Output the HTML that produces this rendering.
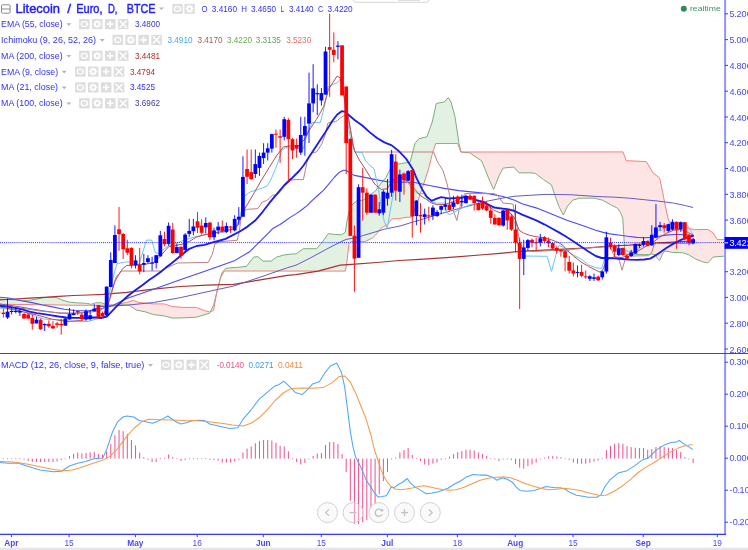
<!DOCTYPE html>
<html><head><meta charset="utf-8"><title>Litecoin / Euro chart</title>
<style>
html,body{margin:0;padding:0;background:#fff;}
body{width:748px;height:550px;overflow:hidden;position:relative;font-family:"Liberation Sans",sans-serif;}
svg{position:absolute;left:0;top:0;display:block;will-change:transform;transform:translateZ(0)}
text{font-family:"Liberation Sans",sans-serif;}
</style></head><body>
<svg width="748" height="550" viewBox="0 0 748 550">
<rect x="0" y="0" width="748" height="550" fill="#ffffff"/>
<defs>
<clipPath id="mainclip"><rect x="0" y="0" width="724" height="353"/></clipPath>
<clipPath id="macdclip"><rect x="0" y="354" width="724" height="180"/></clipPath>
</defs>

<g clip-path="url(#mainclip)">
<polygon points="0.0,299.1 1.0,299.2 2.0,299.2 3.0,299.3 4.0,299.3 5.0,299.4 6.0,299.4 7.0,299.5 8.0,299.5 9.0,299.6 10.0,299.6 11.0,299.7 12.0,299.8 13.0,299.8 14.0,299.9 15.0,299.9 16.0,300.0 17.0,300.0 18.0,300.1 19.0,300.2 20.0,300.2 21.0,300.3 22.0,300.3 23.0,300.4 24.0,300.5 25.0,300.5 26.0,300.6 27.0,300.5 28.0,300.4 29.0,300.2 30.0,300.1 31.0,299.9 32.0,299.8 33.0,299.7 34.0,299.5 35.0,299.4 36.0,299.2 37.0,299.1 38.0,298.9 39.0,298.6 40.0,298.4 41.0,298.2 42.0,298.0 43.0,297.8 44.0,297.6 45.0,297.6 46.0,297.5 47.0,297.5 48.0,297.5 49.0,297.5 50.0,297.4 51.0,297.4 52.0,297.4 53.0,297.4 54.0,297.4 55.0,297.4 56.0,297.4 57.0,297.9 58.0,298.3 59.0,298.7 60.0,299.1 61.0,299.6 62.0,300.0 63.0,300.3 64.0,300.6 65.0,300.9 66.0,301.2 67.0,301.5 68.0,301.8 69.0,302.1 70.0,302.2 71.0,302.3 72.0,302.4 73.0,302.5 74.0,302.6 75.0,302.7 76.0,302.8 77.0,302.8 78.0,302.9 79.0,302.9 80.0,303.0 81.0,303.0 82.0,303.1 83.0,303.1 84.0,303.1 85.0,303.2 86.0,303.3 87.0,303.5 88.0,303.7 89.0,303.9 90.0,304.1 91.0,304.3 92.0,304.0 93.0,303.7 94.0,303.3 95.0,303.0 96.0,302.8 97.0,302.8 98.0,302.8 99.0,302.8 100.0,302.8 101.0,302.8 102.0,303.0 103.0,303.4 104.0,303.7 105.0,304.1 106.0,304.5 107.0,304.8 108.0,305.2 109.0,305.2 110.0,305.1 111.0,305.1 112.0,305.0 113.0,305.0 114.0,304.9 115.0,304.9 116.0,304.8 116.0,304.7 115.0,304.9 114.0,305.1 113.0,305.2 112.0,305.2 111.0,305.2 110.0,305.2 109.0,305.2 108.0,305.3 107.0,305.3 106.0,305.3 105.0,305.3 104.0,305.3 103.0,305.3 102.0,305.3 101.0,305.3 100.0,305.3 99.0,305.3 98.0,305.3 97.0,305.3 96.0,305.3 95.0,305.3 94.0,305.3 93.0,305.3 92.0,305.3 91.0,305.3 90.0,305.3 89.0,305.3 88.0,305.3 87.0,305.3 86.0,305.3 85.0,305.3 84.0,305.3 83.0,305.3 82.0,305.3 81.0,305.3 80.0,305.3 79.0,305.3 78.0,305.3 77.0,305.3 76.0,305.3 75.0,305.3 74.0,305.3 73.0,305.3 72.0,305.3 71.0,305.2 70.0,305.2 69.0,305.2 68.0,305.2 67.0,305.2 66.0,305.1 65.0,305.1 64.0,305.1 63.0,305.1 62.0,305.1 61.0,305.0 60.0,305.0 59.0,305.0 58.0,305.0 57.0,305.0 56.0,304.9 55.0,304.9 54.0,304.9 53.0,304.9 52.0,304.9 51.0,304.8 50.0,304.8 49.0,304.8 48.0,304.8 47.0,304.8 46.0,304.7 45.0,304.7 44.0,304.7 43.0,304.7 42.0,304.7 41.0,304.7 40.0,304.7 39.0,304.7 38.0,304.6 37.0,304.6 36.0,304.6 35.0,304.6 34.0,304.6 33.0,304.6 32.0,304.6 31.0,304.6 30.0,304.6 29.0,304.6 28.0,304.6 27.0,304.5 26.0,304.5 25.0,304.5 24.0,304.5 23.0,304.5 22.0,304.5 21.0,304.5 20.0,304.5 19.0,304.5 18.0,304.5 17.0,304.5 16.0,304.4 15.0,304.4 14.0,304.4 13.0,304.4 12.0,304.4 11.0,304.4 10.0,304.4 9.0,304.4 8.0,304.4 7.0,304.4 6.0,304.4 5.0,304.3 4.0,304.3 3.0,304.3 2.0,304.3 1.0,304.3 0.0,304.3" fill="#e3f1e3" stroke="none"/>
<polygon points="115.0,304.9 116.0,304.8 117.0,304.8 118.0,304.7 119.0,304.7 120.0,304.8 121.0,304.8 122.0,304.9 123.0,304.9 124.0,304.9 125.0,305.0 126.0,305.0 127.0,305.1 128.0,305.1 129.0,305.2 130.0,305.6 131.0,306.3 132.0,307.1 133.0,307.8 134.0,308.5 135.0,309.2 136.0,309.9 137.0,310.2 138.0,310.4 139.0,310.6 140.0,310.8 141.0,311.0 142.0,311.2 143.0,311.4 144.0,311.6 145.0,311.8 146.0,312.1 147.0,312.4 148.0,312.7 149.0,313.1 150.0,313.4 151.0,313.8 152.0,314.1 153.0,314.4 154.0,314.7 155.0,314.8 156.0,314.9 157.0,315.0 158.0,315.1 159.0,315.3 160.0,315.4 161.0,315.5 162.0,315.6 163.0,315.8 164.0,315.9 165.0,316.1 166.0,316.4 167.0,316.6 168.0,316.9 169.0,317.2 170.0,317.4 171.0,317.7 172.0,317.9 173.0,318.0 174.0,318.0 175.0,318.0 176.0,318.0 177.0,318.0 178.0,318.0 179.0,318.0 180.0,318.0 181.0,318.0 182.0,317.9 183.0,317.9 184.0,317.8 185.0,317.8 186.0,317.7 187.0,317.7 188.0,317.6 189.0,317.6 190.0,317.5 191.0,317.5 192.0,317.4 193.0,317.4 194.0,317.3 195.0,317.3 196.0,317.2 197.0,317.0 198.0,316.7 199.0,316.4 200.0,316.1 201.0,315.8 202.0,315.5 203.0,315.2 204.0,314.9 205.0,314.6 206.0,314.3 207.0,314.0 208.0,313.7 209.0,313.4 210.0,312.4 211.0,310.4 211.0,311.4 210.0,311.8 209.0,311.8 208.0,311.5 207.0,311.3 206.0,311.0 205.0,310.8 204.0,310.5 203.0,310.1 202.0,309.7 201.0,309.3 200.0,308.9 199.0,308.5 198.0,308.1 197.0,307.7 196.0,307.4 195.0,307.4 194.0,307.4 193.0,307.4 192.0,307.4 191.0,307.4 190.0,307.4 189.0,307.4 188.0,307.4 187.0,307.4 186.0,307.4 185.0,307.4 184.0,307.4 183.0,307.4 182.0,307.3 181.0,307.3 180.0,307.2 179.0,307.1 178.0,307.0 177.0,307.0 176.0,306.9 175.0,306.8 174.0,306.7 173.0,306.7 172.0,306.5 171.0,306.2 170.0,305.9 169.0,305.5 168.0,305.2 167.0,304.8 166.0,304.5 165.0,304.2 164.0,303.9 163.0,303.9 162.0,303.9 161.0,303.9 160.0,303.9 159.0,303.9 158.0,303.9 157.0,303.9 156.0,303.9 155.0,303.9 154.0,303.9 153.0,303.9 152.0,303.8 151.0,303.7 150.0,303.6 149.0,303.5 148.0,303.4 147.0,303.3 146.0,303.2 145.0,303.1 144.0,303.0 143.0,302.9 142.0,302.8 141.0,302.7 140.0,302.6 139.0,302.5 138.0,302.2 137.0,301.8 136.0,301.4 135.0,301.0 134.0,300.6 133.0,300.5 132.0,300.8 131.0,301.2 130.0,301.5 129.0,301.8 128.0,302.1 127.0,302.4 126.0,302.6 125.0,302.8 124.0,303.0 123.0,303.3 122.0,303.5 121.0,303.7 120.0,303.9 119.0,304.1 118.0,304.3 117.0,304.5 116.0,304.7 115.0,304.9" fill="#fde5e5" stroke="none"/>
<polygon points="210.0,312.4 211.0,310.4 212.0,308.4 213.0,306.4 214.0,303.6 215.0,299.6 216.0,295.6 217.0,291.6 218.0,287.6 219.0,283.7 219.0,283.7 218.0,287.7 217.0,291.7 216.0,296.3 215.0,302.3 214.0,308.2 213.0,310.8 212.0,311.1 211.0,311.4 210.0,311.8" fill="#e3f1e3" stroke="none"/>
<polygon points="218.0,287.6 219.0,283.7 220.0,279.8 221.0,275.8 221.0,277.2 220.0,279.7 219.0,283.7 218.0,287.7" fill="#fde5e5" stroke="none"/>
<polygon points="220.0,279.8 221.0,275.8 222.0,272.7 223.0,271.5 224.0,270.3 225.0,269.1 226.0,268.3 227.0,268.2 228.0,268.1 229.0,268.0 230.0,267.9 231.0,267.9 232.0,267.8 233.0,267.7 234.0,267.6 235.0,267.5 236.0,267.4 237.0,267.4 238.0,267.3 239.0,267.2 240.0,267.1 241.0,267.0 242.0,266.9 243.0,266.8 244.0,266.7 245.0,266.6 246.0,266.5 247.0,265.8 248.0,264.5 249.0,263.2 250.0,261.9 251.0,260.6 252.0,259.3 253.0,258.0 254.0,257.1 255.0,256.9 256.0,256.8 257.0,256.7 258.0,256.8 259.0,257.6 260.0,258.5 261.0,259.3 262.0,260.2 263.0,261.0 264.0,261.1 265.0,261.1 266.0,261.1 267.0,261.1 268.0,261.1 269.0,261.1 270.0,261.1 271.0,261.1 272.0,260.4 273.0,259.7 274.0,259.0 275.0,258.2 276.0,257.5 277.0,257.0 278.0,256.7 279.0,256.4 280.0,256.1 281.0,255.9 282.0,255.6 283.0,255.3 284.0,255.0 285.0,254.8 286.0,254.7 287.0,254.6 288.0,254.5 289.0,254.3 290.0,254.2 291.0,254.1 292.0,254.0 293.0,253.9 294.0,253.9 295.0,253.9 296.0,253.9 297.0,253.2 298.0,252.5 299.0,251.8 300.0,251.1 301.0,250.4 302.0,249.7 303.0,249.0 304.0,248.7 305.0,248.7 306.0,248.7 307.0,248.7 308.0,248.7 309.0,248.7 310.0,248.7 311.0,248.7 312.0,248.7 313.0,248.7 314.0,248.7 315.0,248.7 316.0,248.7 317.0,248.2 318.0,247.0 319.0,245.9 320.0,244.7 321.0,243.5 322.0,242.3 323.0,241.1 324.0,239.8 325.0,238.4 326.0,237.0 327.0,235.6 328.0,234.2 329.0,233.7 330.0,233.8 331.0,234.0 332.0,234.1 333.0,234.2 334.0,234.4 335.0,234.4 336.0,234.5 337.0,234.5 338.0,234.6 339.0,234.7 340.0,234.7 341.0,234.8 342.0,234.6 343.0,233.9 344.0,233.1 345.0,232.4 346.0,227.4 347.0,221.0 348.0,216.2 349.0,211.5 350.0,209.5 351.0,207.6 352.0,205.6 353.0,204.0 354.0,203.1 355.0,202.3 356.0,201.5 357.0,201.1 358.0,200.9 359.0,200.7 360.0,200.5 361.0,200.3 362.0,200.1 363.0,200.0 364.0,199.6 365.0,198.9 366.0,198.1 367.0,197.3 368.0,196.5 369.0,195.8 370.0,195.0 371.0,194.3 372.0,193.5 373.0,192.8 374.0,192.0 375.0,191.3 376.0,190.2 377.0,188.8 378.0,187.4 379.0,186.0 380.0,184.6 381.0,183.3 382.0,182.1 383.0,180.9 384.0,179.8 385.0,178.6 386.0,177.3 387.0,175.3 388.0,173.3 389.0,171.4 390.0,169.4 391.0,168.3 392.0,167.5 393.0,166.8 394.0,166.0 395.0,165.2 396.0,164.5 397.0,164.2 398.0,164.1 399.0,163.9 400.0,163.8 401.0,163.6 402.0,163.4 403.0,163.3 404.0,163.1 405.0,163.0 406.0,162.8 407.0,162.7 408.0,162.5 409.0,162.4 410.0,162.2 411.0,158.7 412.0,154.8 413.0,150.9 414.0,147.0 415.0,143.4 416.0,142.2 417.0,141.0 418.0,139.8 419.0,138.7 420.0,138.4 421.0,138.2 422.0,138.0 423.0,137.7 424.0,137.5 425.0,137.3 426.0,137.0 427.0,136.5 428.0,133.7 429.0,131.0 430.0,128.2 431.0,125.4 432.0,122.7 433.0,118.5 434.0,113.9 435.0,109.3 436.0,104.8 437.0,103.3 438.0,103.1 439.0,102.9 440.0,102.8 441.0,102.6 442.0,102.4 443.0,102.2 444.0,102.1 445.0,101.2 446.0,100.1 447.0,99.0 448.0,97.8 449.0,98.7 450.0,100.3 451.0,102.0 452.0,105.7 453.0,109.3 454.0,113.0 455.0,116.7 456.0,123.4 457.0,130.1 458.0,136.8 459.0,143.5 460.0,148.0 461.0,152.0 461.0,152.0 460.0,149.7 459.0,147.1 458.0,144.5 457.0,143.5 456.0,143.5 455.0,143.5 454.0,143.5 453.0,143.5 452.0,143.5 451.0,143.5 450.0,143.5 449.0,143.5 448.0,143.5 447.0,143.5 446.0,143.5 445.0,143.5 444.0,143.5 443.0,143.5 442.0,143.5 441.0,143.5 440.0,143.5 439.0,143.5 438.0,143.5 437.0,143.5 436.0,143.5 435.0,145.6 434.0,148.7 433.0,151.8 432.0,155.0 431.0,159.0 430.0,163.0 429.0,167.0 428.0,170.8 427.0,173.8 426.0,176.9 425.0,179.9 424.0,183.0 423.0,186.0 422.0,189.0 421.0,191.9 420.0,194.9 419.0,197.9 418.0,200.8 417.0,203.7 416.0,206.5 415.0,209.2 414.0,212.0 413.0,214.8 412.0,217.0 411.0,217.1 410.0,217.1 409.0,217.2 408.0,217.3 407.0,217.3 406.0,217.4 405.0,217.6 404.0,217.7 403.0,217.9 402.0,218.1 401.0,218.3 400.0,218.4 399.0,218.6 398.0,218.6 397.0,218.7 396.0,218.7 395.0,218.8 394.0,218.8 393.0,218.8 392.0,218.9 391.0,219.8 390.0,221.2 389.0,222.5 388.0,223.9 387.0,225.0 386.0,225.5 385.0,226.0 384.0,226.5 383.0,227.0 382.0,227.5 381.0,228.3 380.0,229.5 379.0,230.8 378.0,232.0 377.0,233.2 376.0,234.5 375.0,235.6 374.0,236.5 373.0,237.5 372.0,238.2 371.0,238.7 370.0,239.2 369.0,239.7 368.0,240.2 367.0,240.7 366.0,241.2 365.0,241.6 364.0,241.6 363.0,241.6 362.0,241.6 361.0,241.6 360.0,241.6 359.0,241.6 358.0,241.6 357.0,241.6 356.0,241.6 355.0,241.6 354.0,241.6 353.0,241.6 352.0,241.6 351.0,241.8 350.0,242.8 349.0,243.8 348.0,252.5 347.0,261.3 346.0,267.3 345.0,271.1 344.0,271.1 343.0,271.1 342.0,271.1 341.0,271.1 340.0,271.1 339.0,271.1 338.0,271.1 337.0,271.1 336.0,271.1 335.0,271.1 334.0,271.1 333.0,271.1 332.0,271.1 331.0,271.1 330.0,271.1 329.0,271.1 328.0,271.1 327.0,271.1 326.0,271.1 325.0,271.1 324.0,271.1 323.0,271.1 322.0,271.1 321.0,271.1 320.0,271.1 319.0,271.1 318.0,271.1 317.0,271.1 316.0,271.1 315.0,271.1 314.0,271.1 313.0,271.1 312.0,271.1 311.0,271.1 310.0,271.1 309.0,271.1 308.0,271.1 307.0,271.1 306.0,271.1 305.0,271.1 304.0,271.1 303.0,271.1 302.0,271.1 301.0,271.1 300.0,271.1 299.0,271.1 298.0,271.1 297.0,271.1 296.0,271.1 295.0,271.1 294.0,271.1 293.0,271.1 292.0,271.1 291.0,271.1 290.0,271.1 289.0,271.1 288.0,271.1 287.0,271.1 286.0,271.1 285.0,271.1 284.0,271.0 283.0,271.0 282.0,271.0 281.0,271.0 280.0,271.0 279.0,271.0 278.0,271.0 277.0,271.0 276.0,271.0 275.0,271.0 274.0,271.0 273.0,271.0 272.0,271.0 271.0,271.0 270.0,271.0 269.0,271.0 268.0,271.0 267.0,271.0 266.0,271.0 265.0,271.0 264.0,271.0 263.0,271.0 262.0,271.0 261.0,271.0 260.0,271.0 259.0,271.0 258.0,271.0 257.0,271.0 256.0,271.0 255.0,271.0 254.0,271.0 253.0,271.0 252.0,271.0 251.0,271.0 250.0,271.0 249.0,271.0 248.0,271.0 247.0,271.0 246.0,271.0 245.0,271.0 244.0,271.0 243.0,271.0 242.0,271.0 241.0,271.0 240.0,271.0 239.0,271.0 238.0,271.0 237.0,271.0 236.0,271.0 235.0,271.0 234.0,271.0 233.0,271.0 232.0,271.0 231.0,271.0 230.0,271.0 229.0,271.0 228.0,271.0 227.0,271.0 226.0,271.0 225.0,271.0 224.0,271.6 223.0,273.4 222.0,275.3 221.0,277.2 220.0,279.7" fill="#e3f1e3" stroke="none"/>
<polygon points="460.0,148.0 461.0,152.0 462.0,152.1 463.0,152.2 464.0,152.3 465.0,152.4 466.0,152.5 467.0,152.6 468.0,152.6 469.0,152.7 470.0,153.0 471.0,153.7 472.0,154.4 473.0,155.0 474.0,155.7 475.0,156.4 476.0,157.1 477.0,157.7 478.0,158.4 479.0,159.1 480.0,159.8 481.0,160.4 482.0,161.7 483.0,164.2 484.0,166.7 485.0,169.2 486.0,171.7 487.0,174.2 488.0,176.7 489.0,179.2 490.0,181.5 491.0,183.7 492.0,185.8 493.0,188.0 494.0,188.7 495.0,186.2 496.0,183.6 497.0,181.0 498.0,178.4 499.0,175.9 500.0,173.9 501.0,172.0 502.0,170.2 503.0,168.3 504.0,168.0 505.0,167.9 506.0,167.8 507.0,167.7 508.0,167.6 509.0,167.5 510.0,167.4 511.0,167.3 512.0,167.2 513.0,167.1 514.0,167.2 515.0,168.3 516.0,169.4 517.0,170.6 518.0,171.7 519.0,172.8 520.0,172.9 521.0,172.9 522.0,172.9 523.0,172.9 524.0,172.9 525.0,172.8 526.0,172.8 527.0,172.8 528.0,172.8 529.0,172.8 530.0,172.8 531.0,172.9 532.0,173.0 533.0,173.1 534.0,173.2 535.0,173.3 536.0,173.8 537.0,174.6 538.0,175.4 539.0,176.1 540.0,176.9 541.0,177.7 542.0,178.4 543.0,179.2 544.0,179.9 545.0,180.6 546.0,181.2 547.0,181.9 548.0,182.5 549.0,183.2 550.0,183.9 551.0,184.5 552.0,186.6 553.0,189.6 554.0,192.6 555.0,195.6 556.0,198.4 557.0,201.1 558.0,203.8 559.0,206.4 560.0,208.6 561.0,210.5 562.0,212.4 563.0,214.3 564.0,213.7 565.0,211.5 566.0,209.3 567.0,207.1 568.0,205.5 569.0,204.4 570.0,203.3 571.0,202.1 572.0,201.0 573.0,200.0 574.0,199.8 575.0,199.5 576.0,199.2 577.0,198.9 578.0,198.6 579.0,198.3 580.0,198.2 581.0,198.2 582.0,198.2 583.0,198.2 584.0,198.2 585.0,198.2 586.0,198.2 587.0,198.2 588.0,198.2 589.0,198.2 590.0,198.2 591.0,198.2 592.0,198.2 593.0,198.2 594.0,198.2 595.0,198.4 596.0,198.6 597.0,198.9 598.0,199.1 599.0,199.3 600.0,199.6 601.0,199.8 602.0,200.1 603.0,200.5 604.0,201.1 605.0,201.6 606.0,202.2 607.0,202.7 608.0,203.3 609.0,203.8 610.0,204.3 611.0,204.9 612.0,205.4 613.0,205.9 614.0,206.4 615.0,206.9 616.0,207.4 617.0,207.9 618.0,208.8 619.0,210.3 620.0,211.8 621.0,213.8 622.0,216.5 623.0,221.9 624.0,238.5 625.0,254.2 626.0,254.2 627.0,254.3 628.0,254.3 629.0,254.4 630.0,254.4 631.0,254.4 632.0,254.5 633.0,254.5 634.0,254.5 635.0,254.6 636.0,254.6 637.0,254.6 638.0,254.6 639.0,254.6 640.0,254.6 641.0,254.6 642.0,254.6 643.0,254.6 644.0,254.6 645.0,254.6 646.0,254.6 647.0,254.6 648.0,254.6 649.0,254.5 650.0,254.3 651.0,254.0 652.0,254.0 653.0,254.2 654.0,254.4 655.0,254.6 656.0,255.9 657.0,257.6 658.0,258.9 659.0,259.9 660.0,259.6 661.0,257.4 662.0,255.2 663.0,253.4 664.0,252.1 665.0,251.0 666.0,251.2 667.0,251.3 668.0,251.5 669.0,251.7 670.0,251.9 671.0,252.1 672.0,252.4 673.0,252.4 674.0,252.5 675.0,252.5 676.0,252.5 677.0,252.5 678.0,252.6 679.0,252.6 680.0,252.6 681.0,252.7 682.0,252.7 683.0,252.9 684.0,253.2 685.0,253.5 686.0,253.8 687.0,254.1 688.0,254.5 689.0,255.0 690.0,255.6 691.0,256.2 692.0,256.8 693.0,257.4 694.0,258.1 695.0,258.7 696.0,259.2 697.0,259.6 698.0,260.0 699.0,260.4 700.0,260.8 701.0,261.2 702.0,261.6 703.0,262.0 704.0,262.2 705.0,262.4 706.0,262.6 707.0,262.7 708.0,262.7 709.0,261.6 710.0,260.5 711.0,259.4 712.0,258.3 713.0,257.2 714.0,256.9 715.0,256.9 716.0,256.8 717.0,256.7 718.0,256.6 719.0,256.6 720.0,256.5 721.0,256.4 722.0,256.3 723.0,256.3 724.0,256.2 724.0,239.6 723.0,239.6 722.0,239.6 721.0,239.6 720.0,239.6 719.0,239.6 718.0,239.6 717.0,239.3 716.0,237.6 715.0,235.9 714.0,234.2 713.0,232.8 712.0,232.1 711.0,231.5 710.0,230.9 709.0,230.3 708.0,229.6 707.0,229.5 706.0,229.5 705.0,229.5 704.0,229.5 703.0,229.5 702.0,229.5 701.0,229.6 700.0,229.6 699.0,229.6 698.0,229.6 697.0,229.6 696.0,229.6 695.0,229.6 694.0,229.5 693.0,229.3 692.0,229.0 691.0,228.8 690.0,228.5 689.0,228.3 688.0,227.9 687.0,227.6 686.0,227.2 685.0,226.8 684.0,226.4 683.0,226.0 682.0,225.6 681.0,225.2 680.0,225.1 679.0,225.0 678.0,224.9 677.0,224.8 676.0,224.7 675.0,224.6 674.0,224.5 673.0,224.4 672.0,224.2 671.0,223.9 670.0,223.7 669.0,221.0 668.0,218.0 667.0,213.8 666.0,209.1 665.0,204.2 664.0,199.1 663.0,194.0 662.0,189.1 661.0,184.3 660.0,179.5 659.0,177.5 658.0,176.8 657.0,176.0 656.0,175.2 655.0,174.4 654.0,173.6 653.0,172.8 652.0,171.1 651.0,169.5 650.0,167.8 649.0,166.1 648.0,164.4 647.0,162.8 646.0,161.6 645.0,161.5 644.0,161.5 643.0,161.5 642.0,161.4 641.0,161.4 640.0,161.3 639.0,161.3 638.0,161.2 637.0,161.2 636.0,161.1 635.0,161.1 634.0,161.0 633.0,161.0 632.0,161.0 631.0,160.9 630.0,160.9 629.0,160.8 628.0,160.8 627.0,160.7 626.0,159.9 625.0,157.2 624.0,154.6 623.0,151.9 622.0,151.9 621.0,151.9 620.0,151.9 619.0,151.9 618.0,151.9 617.0,151.9 616.0,151.9 615.0,151.9 614.0,151.9 613.0,151.9 612.0,151.9 611.0,151.9 610.0,151.9 609.0,151.9 608.0,151.9 607.0,151.9 606.0,151.9 605.0,151.9 604.0,151.9 603.0,151.9 602.0,151.9 601.0,151.9 600.0,151.9 599.0,151.9 598.0,151.9 597.0,151.9 596.0,151.9 595.0,151.9 594.0,151.9 593.0,151.9 592.0,151.9 591.0,151.9 590.0,151.9 589.0,151.9 588.0,151.9 587.0,151.9 586.0,151.9 585.0,151.9 584.0,151.9 583.0,151.9 582.0,151.9 581.0,151.9 580.0,151.9 579.0,151.9 578.0,151.9 577.0,151.9 576.0,151.9 575.0,151.9 574.0,151.9 573.0,151.9 572.0,151.9 571.0,151.9 570.0,151.9 569.0,151.9 568.0,151.9 567.0,151.9 566.0,151.9 565.0,151.9 564.0,151.9 563.0,151.9 562.0,151.9 561.0,151.9 560.0,151.9 559.0,151.9 558.0,151.9 557.0,151.9 556.0,151.9 555.0,151.9 554.0,151.9 553.0,151.9 552.0,151.9 551.0,151.9 550.0,151.9 549.0,151.9 548.0,151.9 547.0,151.9 546.0,151.9 545.0,151.9 544.0,151.9 543.0,151.9 542.0,151.9 541.0,152.0 540.0,152.0 539.0,152.0 538.0,152.0 537.0,152.0 536.0,152.0 535.0,152.0 534.0,152.0 533.0,152.0 532.0,152.0 531.0,152.0 530.0,152.0 529.0,152.0 528.0,152.0 527.0,152.0 526.0,152.0 525.0,152.0 524.0,152.0 523.0,152.0 522.0,152.0 521.0,152.0 520.0,152.0 519.0,152.0 518.0,152.0 517.0,152.0 516.0,152.0 515.0,152.0 514.0,152.0 513.0,152.0 512.0,152.0 511.0,152.0 510.0,152.0 509.0,152.0 508.0,152.0 507.0,152.0 506.0,152.0 505.0,152.0 504.0,152.0 503.0,152.0 502.0,152.0 501.0,152.0 500.0,152.0 499.0,152.0 498.0,152.0 497.0,152.0 496.0,152.0 495.0,152.0 494.0,152.0 493.0,152.0 492.0,152.0 491.0,152.0 490.0,152.0 489.0,152.0 488.0,152.0 487.0,152.0 486.0,152.0 485.0,152.0 484.0,152.0 483.0,152.0 482.0,152.0 481.0,152.0 480.0,152.0 479.0,152.0 478.0,152.0 477.0,152.0 476.0,152.0 475.0,152.0 474.0,152.0 473.0,152.0 472.0,152.0 471.0,152.0 470.0,152.0 469.0,152.0 468.0,152.0 467.0,152.0 466.0,152.0 465.0,152.0 464.0,152.0 463.0,152.0 462.0,152.0 461.0,152.0 460.0,149.7" fill="#fde5e5" stroke="none"/>
<polyline points="0.0,299.1 14.7,299.9 26.5,300.6 36.8,299.1 44.1,297.6 51.5,297.4 55.9,297.4 61.8,299.9 69.1,302.1 76.5,302.8 85.3,303.2 91.2,304.3 95.6,302.8 101.5,302.8 108.0,305.2 118.7,304.7 129.4,305.2 136.1,310.0 145.5,311.9 153.5,314.6 164.2,315.9 172.2,318.0 180.2,318.0 196.3,317.2 209.6,313.2 213.6,305.2 217.6,289.2 221.7,273.1 225.7,268.3 239.0,267.2 246.5,266.4 253.7,257.1 257.8,256.6 263.1,261.1 271.1,261.1 276.5,257.1 284.5,254.9 292.5,253.9 296.0,253.9 303.4,248.7 316.6,248.7 323.2,240.9 328.4,233.6 334.3,234.4 341.7,234.8 345.3,232.2 346.8,221.9 349.0,211.5 352.7,204.2 356.4,201.2 363.8,199.8 369.6,195.3 375.5,190.9 380.7,183.6 385.8,177.7 390.3,168.8 396.1,164.4 401.5,163.5 410.1,162.2 414.9,143.5 418.9,138.7 426.9,136.8 432.2,122.1 436.3,103.4 444.3,102.0 448.3,97.5 451.0,102.0 455.0,116.7 459.0,143.5 460.9,152.0 469.7,152.8 481.7,160.9 489.7,180.9 493.7,189.5 499.1,175.6 503.1,168.1 513.8,167.0 519.1,172.9 530.0,172.8 535.3,173.3 543.4,179.5 551.4,184.8 555.4,196.8 559.4,207.5 563.4,215.0 567.4,206.2 572.8,200.1 579.5,198.2 594.2,198.2 602.2,200.1 610.3,204.5 617.7,208.3 620.6,212.7 622.8,218.6 623.6,231.8 624.3,243.6 625.0,254.2 635.3,254.6 648.6,254.6 651.5,253.9 655.2,254.6 657.4,258.3 659.6,260.5 662.6,253.9 664.8,251.0 669.2,251.7 672.2,252.4 682.5,252.7 688.4,254.6 695.7,259.1 703.1,262.0 707.8,262.9 713.2,257.0 724.0,256.2" fill="none" stroke="#79b079" stroke-width="1"/>
<polyline points="0.0,304.3 44.1,304.7 73.5,305.3 102.9,305.3 113.4,305.2 126.7,302.5 133.4,300.4 138.8,302.5 153.5,303.9 164.2,303.9 172.2,306.6 182.9,307.4 196.3,307.4 204.3,310.6 209.6,311.9 213.6,310.6 216.3,294.5 220.3,278.5 224.3,271.0 345.3,271.1 346.8,263.0 349.0,243.8 351.2,241.6 365.2,241.6 372.6,237.9 375.5,235.1 381.4,227.8 387.3,224.8 391.7,218.9 399.1,218.6 406.0,217.4 412.2,217.0 417.5,202.3 422.9,186.3 428.2,170.2 432.2,154.2 435.7,143.5 457.6,143.5 460.9,152.0 623.0,151.9 626.3,160.7 646.3,161.6 653.0,172.8 659.7,178.1 662.6,192.0 665.5,206.8 667.7,217.1 669.9,223.7 673.6,224.5 681.0,225.2 688.4,228.1 694.3,229.6 707.8,229.5 713.2,232.9 717.2,239.6 724.0,239.6" fill="none" stroke="#f77f7f" stroke-width="1"/>
<polyline points="0.0,299.8 14.7,299.0 29.4,298.2 44.1,297.3 58.8,296.3 73.5,295.5 88.2,295.0 102.9,294.4 126.7,292.4 153.5,289.2 180.2,286.5 207.0,285.2 233.7,284.4 260.4,279.8 287.2,275.3 296.0,274.6 318.1,271.1 340.2,265.2 354.9,264.2 377.0,262.5 399.1,260.5 420.0,259.3 450.0,257.3 480.0,255.0 500.0,253.3 514.7,251.8 529.5,250.8 544.2,250.1 558.9,249.3 573.6,248.6 588.4,247.9 603.1,246.6 614.7,245.8 629.5,245.1 644.2,243.9 658.9,242.9 673.6,242.1 688.4,241.2 693.1,240.6" fill="none" stroke="#a83232" stroke-width="1.2" stroke-linejoin="round"/>
<polyline points="0.0,304.0 14.7,306.0 29.4,308.5 44.1,311.0 58.8,313.0 73.5,313.5 88.2,312.0 100.0,306.6 126.7,305.2 153.5,302.5 180.2,297.7 207.0,291.8 233.7,286.0 260.4,277.1 287.2,267.8 296.0,265.2 310.7,257.8 325.5,249.7 340.2,242.1 346.1,239.4 354.9,237.9 362.3,235.8 384.4,229.2 400.0,226.0 414.7,221.5 429.5,217.1 444.2,212.7 458.9,208.6 473.6,204.6 488.4,200.9 503.1,198.0 515.0,196.2 530.0,195.3 546.0,194.4 570.1,194.7 596.8,196.5 614.7,197.2 629.5,198.2 644.2,199.7 658.9,201.2 673.6,203.1 685.4,205.6 693.1,207.5" fill="none" stroke="#645cc0" stroke-width="1" stroke-linejoin="round"/>
<polyline points="0.0,297.3 8.6,298.0 21.4,300.7 32.0,302.6 42.8,305.0 53.5,307.1 64.2,309.3 74.9,310.5 88.2,310.9 100.0,309.0 106.0,307.5 113.4,305.2 126.7,298.5 153.5,289.2 180.2,279.8 207.0,270.5 233.7,261.1 249.7,251.7 255.0,246.4 264.1,237.3 273.2,228.2 280.0,224.5 285.5,220.7 290.9,216.9 296.4,213.6 301.8,209.8 307.3,205.4 312.8,199.9 318.2,195.0 323.7,190.1 329.1,183.6 334.6,177.0 339.0,172.6 343.3,170.2 345.5,170.2 349.9,172.6 354.2,175.4 362.3,176.9 377.0,179.9 387.3,181.8 396.1,182.1 406.0,182.1 414.7,182.5 429.5,185.5 444.2,188.4 458.9,190.6 473.6,192.1 488.4,193.6 503.1,196.5 514.0,200.0 522.1,203.7 536.8,208.1 551.5,214.0 566.3,219.9 581.0,225.0 595.7,230.2 603.1,232.4 610.0,233.9 622.1,235.5 629.5,236.5 636.8,237.4 644.2,237.7 651.5,237.4 658.9,236.2 666.3,235.1 673.6,234.5 681.0,234.5 688.4,235.1 693.1,235.5" fill="none" stroke="#4a4aff" stroke-width="1.1" stroke-linejoin="round"/>
<polyline points="0.0,306.0 20.0,308.0 40.0,311.0 60.0,313.0 80.0,313.0 100.0,311.0 107.0,305.0 110.7,297.2 116.0,277.1 121.4,271.0 161.5,271.0 166.8,267.8 177.5,263.0 208.3,262.4 212.3,254.4 215.0,243.7 220.3,241.6 237.2,240.3 239.4,230.7 240.9,218.9 243.1,210.8 247.5,209.3 257.9,208.6 262.3,202.0 266.7,200.5 272.6,195.3 277.7,194.6 284.4,186.5 290.3,180.6 293.9,179.6 303.4,179.6 307.0,162.2 308.5,157.2 312.2,152.7 316.6,152.0 321.8,143.9 325.5,133.6 327.7,123.3 331.3,121.8 335.8,121.8 340.2,118.1 344.6,115.2 346.8,114.5 348.3,118.9 351.2,133.6 354.2,149.8 354.9,152.0 433.6,152.0 437.6,162.2 442.9,170.2 447.0,183.6 452.3,207.6 456.8,220.5 459.0,210.3 463.0,196.9 464.8,193.6 494.3,193.6 497.2,195.0 503.1,203.1 510.0,203.6 513.0,204.0 516.0,222.0 519.0,238.0 522.0,249.0 529.5,251.5 544.2,251.0 558.9,250.0 567.7,250.8 570.7,249.3 581.0,248.6 595.7,247.4 610.0,246.5 614.7,256.9 619.1,259.8 622.1,270.1 625.0,259.8 629.5,256.1 648.6,255.7 651.5,253.2 653.8,245.8 656.0,243.5 673.6,243.5 688.4,243.6 693.1,243.7" fill="none" stroke="#c08080" stroke-width="1" stroke-linejoin="round"/>
<polyline points="0.0,308.0 10.0,309.5 22.1,311.6 29.4,313.8 36.8,316.8 44.1,319.0 51.5,319.7 61.8,319.7 66.2,321.2 76.5,321.5 88.2,321.5 94.1,319.7 102.9,317.5 108.0,300.0 112.0,281.0 117.1,263.6 124.5,262.2 128.6,261.8 133.6,264.8 139.2,264.1 140.7,258.9 146.5,240.1 151.7,240.1 155.4,253.0 159.1,253.3 162.7,250.1 168.6,245.7 175.0,243.5 182.0,241.0 189.0,238.5 196.0,236.6 204.8,234.8 210.7,233.6 225.5,232.2 237.2,224.8 240.2,216.0 244.6,196.1 250.5,191.7 256.4,190.2 262.3,188.0 267.4,185.8 271.1,179.1 275.5,168.8 278.2,161.4 281.8,150.5 285.5,147.7 298.2,148.6 303.6,148.6 304.8,142.4 307.8,132.1 312.2,122.6 320.3,122.6 323.2,111.5 326.9,95.3 327.7,87.3 332.8,84.4 337.2,82.9 340.2,79.2 343.0,90.0 347.0,120.0 351.0,140.0 354.9,152.0 362.3,152.7 365.2,160.1 369.6,165.2 374.1,168.8 378.5,189.5 381.4,208.6 384.4,221.9 387.3,228.5 390.3,210.1 393.2,193.9 397.6,179.1 402.0,178.5 407.4,181.8 411.8,189.1 417.7,193.6 423.6,193.6 429.5,201.7 436.8,203.1 444.2,203.1 447.1,212.0 449.3,214.9 458.9,209.8 466.3,206.1 472.2,203.9 475.1,204.6 482.0,205.0 490.0,206.0 500.0,207.5 508.8,211.0 511.8,214.7 514.0,220.6 516.2,229.5 517.7,242.7 519.1,250.1 522.1,256.0 547.1,256.3 551.5,271.4 556.0,254.5 558.9,245.7 563.3,247.1 567.7,251.5 573.6,255.2 581.0,258.9 588.4,264.8 595.7,267.7 601.6,268.5 604.6,258.9 606.8,248.6 610.0,247.0 618.0,247.5 626.0,251.0 634.0,252.0 640.0,248.0 648.0,242.0 656.0,230.5 662.0,230.5 665.0,227.0 670.0,224.0 680.0,222.8 686.2,223.7 688.4,226.7 691.3,231.8 693.1,234.1" fill="none" stroke="#6cc4f5" stroke-width="1" stroke-linejoin="round"/>
<polyline points="0.0,307.0 14.7,309.5 22.0,311.5 36.8,315.0 51.5,319.0 66.2,321.5 80.9,320.5 95.6,317.5 103.0,315.5 108.0,305.0 112.0,290.0 115.0,281.0 122.2,269.2 126.7,265.5 131.0,265.3 134.8,264.8 143.6,264.5 153.9,262.6 159.8,256.7 168.6,246.8 174.5,245.7 183.0,244.0 190.0,241.0 196.0,237.3 203.4,235.1 210.7,233.6 218.1,232.2 225.5,230.7 232.8,229.2 237.2,226.3 240.2,218.9 243.1,211.5 247.6,204.0 254.5,192.3 261.8,179.5 269.1,167.7 276.4,155.9 283.6,146.8 290.9,145.9 298.2,145.9 304.5,139.5 309.1,130.5 316.4,119.5 323.6,106.8 328.4,89.5 337.2,76.0 340.2,78.0 343.0,90.0 346.0,107.0 349.0,120.3 352.7,143.9 354.9,151.3 359.3,160.0 365.2,168.8 369.6,176.2 375.5,185.0 381.4,189.5 387.3,188.7 390.3,183.6 395.0,178.0 401.0,177.0 407.4,181.0 414.7,189.1 420.6,195.8 426.5,199.5 431.7,203.1 436.8,204.6 444.2,204.6 451.5,202.4 458.9,199.5 463.3,197.2 470.7,197.2 476.6,200.9 482.5,203.1 488.4,206.1 494.3,210.5 500.1,212.7 506.0,211.2 508.8,212.0 513.3,216.0 516.2,222.1 519.1,230.2 523.6,233.1 529.5,235.3 536.8,236.8 544.2,238.0 551.5,239.8 558.9,242.7 563.3,245.7 567.7,250.8 573.6,256.0 581.0,261.9 588.4,266.3 595.7,270.0 600.1,272.2 603.1,269.2 606.0,261.9 610.0,258.0 614.7,256.9 622.1,257.6 629.5,253.9 636.8,251.7 644.2,247.3 651.5,243.6 658.9,237.7 666.3,233.3 673.6,230.3 681.0,229.6 688.4,232.6 693.1,234.8" fill="none" stroke="#b85050" stroke-width="1" stroke-linejoin="round"/>
<polyline points="0.0,305.7 7.4,306.5 14.7,307.9 22.1,309.4 29.4,311.6 36.8,313.1 44.1,314.1 51.5,315.3 58.8,316.5 66.2,317.5 73.5,317.9 80.9,317.9 88.2,317.5 95.6,317.3 100.9,318.0 106.8,316.5 110.4,312.9 115.1,307.8 121.0,302.2 128.1,295.7 135.2,290.3 142.3,285.2 149.4,279.8 156.5,275.1 161.2,271.5 165.9,267.6 171.6,263.3 180.4,256.0 189.3,248.8 196.6,246.0 204.7,244.8 211.0,242.8 218.1,241.0 225.5,238.8 232.8,235.1 240.2,231.2 247.5,226.6 254.9,220.8 262.3,212.3 269.6,202.7 277.0,193.9 284.4,185.0 291.7,178.3 299.1,171.0 303.5,165.5 310.7,154.5 318.1,143.2 325.5,132.1 332.8,120.3 337.2,114.5 341.7,111.2 345.3,111.8 349.0,115.2 354.9,120.3 362.3,125.5 369.6,132.1 377.0,138.0 384.4,142.4 391.7,145.4 399.1,151.3 406.0,158.6 413.3,170.0 416.2,177.4 422.1,189.1 426.5,196.5 431.7,200.9 436.8,198.7 441.2,197.2 448.6,198.3 458.9,198.0 464.8,197.2 470.7,198.0 476.6,200.2 482.5,201.7 488.4,204.6 494.3,207.6 500.1,208.3 507.4,209.1 514.7,211.0 522.1,214.7 529.5,217.7 536.8,220.6 544.2,224.3 551.5,228.3 558.9,232.4 566.3,236.8 573.6,241.5 581.0,246.4 588.4,251.5 595.7,256.0 601.6,258.0 607.4,258.0 614.7,258.4 622.1,259.0 629.5,259.6 636.8,259.8 644.2,259.5 650.1,258.6 654.5,256.1 658.9,253.2 666.3,248.0 673.6,243.6 681.0,239.9 688.4,237.0 693.1,235.8" fill="none" stroke="#1c1cf0" stroke-width="1.85" stroke-linejoin="round" stroke-linecap="round"/>
<line x1="3.40" x2="3.40" y1="309.0" y2="317.5" stroke="#ff0000" stroke-width="0.9"/>
<rect x="1.52" y="312.6" width="3.75" height="1.4" fill="#ff0000"/>
<line x1="7.53" x2="7.53" y1="298.4" y2="319.0" stroke="#0000ff" stroke-width="0.9"/>
<rect x="5.65" y="311.6" width="3.75" height="5.9" fill="#0000ff"/>
<line x1="11.66" x2="11.66" y1="307.0" y2="314.5" stroke="#0000ff" stroke-width="0.9"/>
<rect x="9.79" y="311.0" width="3.75" height="1.0" fill="#0000ff"/>
<line x1="15.79" x2="15.79" y1="307.0" y2="313.5" stroke="#0000ff" stroke-width="0.9"/>
<rect x="13.92" y="311.0" width="3.75" height="1.0" fill="#0000ff"/>
<line x1="19.92" x2="19.92" y1="309.4" y2="316.0" stroke="#0000ff" stroke-width="0.9"/>
<rect x="18.04" y="311.0" width="3.75" height="1.6" fill="#0000ff"/>
<line x1="24.05" x2="24.05" y1="313.0" y2="319.0" stroke="#ff0000" stroke-width="0.9"/>
<rect x="22.17" y="314.0" width="3.75" height="4.5" fill="#ff0000"/>
<line x1="28.18" x2="28.18" y1="313.0" y2="319.0" stroke="#ff0000" stroke-width="0.9"/>
<rect x="26.30" y="314.5" width="3.75" height="4.0" fill="#ff0000"/>
<line x1="32.31" x2="32.31" y1="314.5" y2="329.7" stroke="#ff0000" stroke-width="0.9"/>
<rect x="30.44" y="318.0" width="3.75" height="5.8" fill="#ff0000"/>
<line x1="36.44" x2="36.44" y1="316.8" y2="323.4" stroke="#0000ff" stroke-width="0.9"/>
<rect x="34.56" y="319.7" width="3.75" height="3.7" fill="#0000ff"/>
<line x1="40.57" x2="40.57" y1="318.5" y2="329.7" stroke="#ff0000" stroke-width="0.9"/>
<rect x="38.70" y="319.7" width="3.75" height="9.6" fill="#ff0000"/>
<line x1="44.70" x2="44.70" y1="323.4" y2="331.0" stroke="#0000ff" stroke-width="0.9"/>
<rect x="42.82" y="324.0" width="3.75" height="1.3" fill="#0000ff"/>
<line x1="48.83" x2="48.83" y1="320.4" y2="327.8" stroke="#ff0000" stroke-width="0.9"/>
<rect x="46.95" y="323.8" width="3.75" height="2.5" fill="#ff0000"/>
<line x1="52.96" x2="52.96" y1="321.2" y2="328.5" stroke="#ff0000" stroke-width="0.9"/>
<rect x="51.09" y="325.9" width="3.75" height="2.6" fill="#ff0000"/>
<line x1="57.09" x2="57.09" y1="321.9" y2="327.8" stroke="#ff0000" stroke-width="0.9"/>
<rect x="55.21" y="323.4" width="3.75" height="1.5" fill="#ff0000"/>
<line x1="61.22" x2="61.22" y1="319.0" y2="334.7" stroke="#ff0000" stroke-width="0.9"/>
<rect x="59.34" y="323.8" width="3.75" height="1.5" fill="#ff0000"/>
<line x1="65.35" x2="65.35" y1="318.0" y2="325.6" stroke="#0000ff" stroke-width="0.9"/>
<rect x="63.47" y="318.5" width="3.75" height="7.1" fill="#0000ff"/>
<line x1="69.48" x2="69.48" y1="308.0" y2="319.7" stroke="#0000ff" stroke-width="0.9"/>
<rect x="67.61" y="314.1" width="3.75" height="5.3" fill="#0000ff"/>
<line x1="73.61" x2="73.61" y1="309.4" y2="315.3" stroke="#0000ff" stroke-width="0.9"/>
<rect x="71.73" y="313.5" width="3.75" height="1.5" fill="#0000ff"/>
<line x1="77.74" x2="77.74" y1="310.6" y2="315.0" stroke="#ff0000" stroke-width="0.9"/>
<rect x="75.87" y="310.9" width="3.75" height="1.5" fill="#ff0000"/>
<line x1="81.87" x2="81.87" y1="313.1" y2="320.4" stroke="#ff0000" stroke-width="0.9"/>
<rect x="80.00" y="314.6" width="3.75" height="4.4" fill="#ff0000"/>
<line x1="86.00" x2="86.00" y1="309.4" y2="320.9" stroke="#0000ff" stroke-width="0.9"/>
<rect x="84.12" y="311.2" width="3.75" height="7.8" fill="#0000ff"/>
<line x1="90.13" x2="90.13" y1="310.6" y2="320.4" stroke="#0000ff" stroke-width="0.9"/>
<rect x="88.26" y="315.3" width="3.75" height="3.7" fill="#0000ff"/>
<line x1="94.26" x2="94.26" y1="304.3" y2="311.6" stroke="#0000ff" stroke-width="0.9"/>
<rect x="92.39" y="308.7" width="3.75" height="2.5" fill="#0000ff"/>
<line x1="98.39" x2="98.39" y1="305.0" y2="318.5" stroke="#ff0000" stroke-width="0.9"/>
<rect x="96.52" y="305.0" width="3.75" height="11.8" fill="#ff0000"/>
<line x1="102.52" x2="102.52" y1="311.6" y2="317.5" stroke="#ff0000" stroke-width="0.9"/>
<rect x="100.65" y="313.0" width="3.75" height="3.0" fill="#ff0000"/>
<line x1="106.65" x2="106.65" y1="286.6" y2="316.0" stroke="#0000ff" stroke-width="0.9"/>
<rect x="104.78" y="286.6" width="3.75" height="28.7" fill="#0000ff"/>
<line x1="110.78" x2="110.78" y1="252.3" y2="287.0" stroke="#0000ff" stroke-width="0.9"/>
<rect x="108.91" y="260.0" width="3.75" height="27.0" fill="#0000ff"/>
<line x1="114.91" x2="114.91" y1="225.3" y2="263.0" stroke="#0000ff" stroke-width="0.9"/>
<rect x="113.03" y="235.0" width="3.75" height="28.0" fill="#0000ff"/>
<line x1="119.04" x2="119.04" y1="207.0" y2="250.8" stroke="#ff0000" stroke-width="0.9"/>
<rect x="117.17" y="229.2" width="3.75" height="5.0" fill="#ff0000"/>
<line x1="123.17" x2="123.17" y1="233.0" y2="259.0" stroke="#ff0000" stroke-width="0.9"/>
<rect x="121.30" y="233.9" width="3.75" height="15.4" fill="#ff0000"/>
<line x1="127.30" x2="127.30" y1="239.8" y2="255.2" stroke="#ff0000" stroke-width="0.9"/>
<rect x="125.42" y="248.3" width="3.75" height="4.4" fill="#ff0000"/>
<line x1="131.43" x2="131.43" y1="247.4" y2="268.5" stroke="#ff0000" stroke-width="0.9"/>
<rect x="129.56" y="247.9" width="3.75" height="17.6" fill="#ff0000"/>
<line x1="135.56" x2="135.56" y1="255.2" y2="268.5" stroke="#0000ff" stroke-width="0.9"/>
<rect x="133.69" y="260.4" width="3.75" height="5.1" fill="#0000ff"/>
<line x1="139.69" x2="139.69" y1="247.9" y2="274.4" stroke="#ff0000" stroke-width="0.9"/>
<rect x="137.81" y="264.8" width="3.75" height="6.6" fill="#ff0000"/>
<line x1="143.82" x2="143.82" y1="253.8" y2="272.2" stroke="#0000ff" stroke-width="0.9"/>
<rect x="141.94" y="263.0" width="3.75" height="1.8" fill="#0000ff"/>
<line x1="147.95" x2="147.95" y1="255.2" y2="263.3" stroke="#0000ff" stroke-width="0.9"/>
<rect x="146.07" y="258.2" width="3.75" height="3.9" fill="#0000ff"/>
<line x1="152.08" x2="152.08" y1="256.7" y2="270.7" stroke="#0000ff" stroke-width="0.9"/>
<rect x="150.21" y="262.6" width="3.75" height="1.0" fill="#0000ff"/>
<line x1="156.21" x2="156.21" y1="254.8" y2="268.5" stroke="#0000ff" stroke-width="0.9"/>
<rect x="154.34" y="255.2" width="3.75" height="7.8" fill="#0000ff"/>
<line x1="160.34" x2="160.34" y1="230.9" y2="256.7" stroke="#0000ff" stroke-width="0.9"/>
<rect x="158.47" y="235.3" width="3.75" height="21.0" fill="#0000ff"/>
<line x1="164.47" x2="164.47" y1="231.7" y2="246.4" stroke="#ff0000" stroke-width="0.9"/>
<rect x="162.59" y="239.0" width="3.75" height="5.2" fill="#ff0000"/>
<line x1="168.60" x2="168.60" y1="222.4" y2="245.7" stroke="#0000ff" stroke-width="0.9"/>
<rect x="166.72" y="225.8" width="3.75" height="18.1" fill="#0000ff"/>
<line x1="172.73" x2="172.73" y1="222.8" y2="253.8" stroke="#ff0000" stroke-width="0.9"/>
<rect x="170.85" y="229.5" width="3.75" height="23.5" fill="#ff0000"/>
<line x1="176.86" x2="176.86" y1="243.4" y2="253.3" stroke="#0000ff" stroke-width="0.9"/>
<rect x="174.99" y="247.1" width="3.75" height="5.9" fill="#0000ff"/>
<line x1="180.99" x2="180.99" y1="246.4" y2="258.9" stroke="#ff0000" stroke-width="0.9"/>
<rect x="179.12" y="246.8" width="3.75" height="8.9" fill="#ff0000"/>
<line x1="185.12" x2="185.12" y1="233.1" y2="252.3" stroke="#0000ff" stroke-width="0.9"/>
<rect x="183.25" y="234.6" width="3.75" height="15.5" fill="#0000ff"/>
<line x1="189.25" x2="189.25" y1="218.9" y2="236.8" stroke="#0000ff" stroke-width="0.9"/>
<rect x="187.38" y="230.9" width="3.75" height="3.0" fill="#0000ff"/>
<line x1="193.38" x2="193.38" y1="218.9" y2="235.3" stroke="#0000ff" stroke-width="0.9"/>
<rect x="191.50" y="226.5" width="3.75" height="4.7" fill="#0000ff"/>
<line x1="197.51" x2="197.51" y1="212.1" y2="233.1" stroke="#ff0000" stroke-width="0.9"/>
<rect x="195.63" y="221.3" width="3.75" height="6.4" fill="#ff0000"/>
<line x1="201.64" x2="201.64" y1="219.3" y2="234.6" stroke="#ff0000" stroke-width="0.9"/>
<rect x="199.77" y="225.6" width="3.75" height="7.2" fill="#ff0000"/>
<line x1="205.77" x2="205.77" y1="217.4" y2="233.6" stroke="#0000ff" stroke-width="0.9"/>
<rect x="203.90" y="223.0" width="3.75" height="4.4" fill="#0000ff"/>
<line x1="209.90" x2="209.90" y1="221.9" y2="240.3" stroke="#ff0000" stroke-width="0.9"/>
<rect x="208.03" y="222.6" width="3.75" height="14.7" fill="#ff0000"/>
<line x1="214.03" x2="214.03" y1="227.7" y2="240.3" stroke="#0000ff" stroke-width="0.9"/>
<rect x="212.16" y="230.4" width="3.75" height="6.9" fill="#0000ff"/>
<line x1="218.16" x2="218.16" y1="221.9" y2="234.4" stroke="#0000ff" stroke-width="0.9"/>
<rect x="216.28" y="226.6" width="3.75" height="3.8" fill="#0000ff"/>
<line x1="222.29" x2="222.29" y1="220.4" y2="232.2" stroke="#ff0000" stroke-width="0.9"/>
<rect x="220.41" y="226.6" width="3.75" height="4.8" fill="#ff0000"/>
<line x1="226.42" x2="226.42" y1="222.6" y2="232.9" stroke="#0000ff" stroke-width="0.9"/>
<rect x="224.54" y="226.0" width="3.75" height="5.9" fill="#0000ff"/>
<line x1="230.55" x2="230.55" y1="226.0" y2="232.9" stroke="#ff0000" stroke-width="0.9"/>
<rect x="228.68" y="226.6" width="3.75" height="1.0" fill="#ff0000"/>
<line x1="234.68" x2="234.68" y1="215.2" y2="231.4" stroke="#0000ff" stroke-width="0.9"/>
<rect x="232.81" y="218.9" width="3.75" height="11.5" fill="#0000ff"/>
<line x1="238.81" x2="238.81" y1="207.1" y2="224.8" stroke="#0000ff" stroke-width="0.9"/>
<rect x="236.94" y="216.7" width="3.75" height="2.9" fill="#0000ff"/>
<line x1="242.94" x2="242.94" y1="156.3" y2="216.7" stroke="#0000ff" stroke-width="0.9"/>
<rect x="241.06" y="176.9" width="3.75" height="39.8" fill="#0000ff"/>
<line x1="247.07" x2="247.07" y1="149.5" y2="184.0" stroke="#ff0000" stroke-width="0.9"/>
<rect x="245.19" y="169.0" width="3.75" height="7.8" fill="#ff0000"/>
<line x1="251.20" x2="251.20" y1="149.5" y2="179.5" stroke="#ff0000" stroke-width="0.9"/>
<rect x="249.32" y="172.2" width="3.75" height="7.0" fill="#ff0000"/>
<line x1="255.33" x2="255.33" y1="149.5" y2="178.0" stroke="#0000ff" stroke-width="0.9"/>
<rect x="253.46" y="164.1" width="3.75" height="9.9" fill="#0000ff"/>
<line x1="259.46" x2="259.46" y1="152.6" y2="175.9" stroke="#0000ff" stroke-width="0.9"/>
<rect x="257.58" y="155.9" width="3.75" height="12.0" fill="#0000ff"/>
<line x1="263.59" x2="263.59" y1="143.2" y2="164.1" stroke="#0000ff" stroke-width="0.9"/>
<rect x="261.71" y="152.6" width="3.75" height="5.5" fill="#0000ff"/>
<line x1="267.72" x2="267.72" y1="143.2" y2="160.5" stroke="#0000ff" stroke-width="0.9"/>
<rect x="265.84" y="148.3" width="3.75" height="4.3" fill="#0000ff"/>
<line x1="271.85" x2="271.85" y1="133.7" y2="152.6" stroke="#0000ff" stroke-width="0.9"/>
<rect x="269.97" y="134.1" width="3.75" height="14.5" fill="#0000ff"/>
<line x1="275.98" x2="275.98" y1="129.5" y2="147.7" stroke="#ff0000" stroke-width="0.9"/>
<rect x="274.10" y="133.7" width="3.75" height="1.0" fill="#ff0000"/>
<line x1="280.11" x2="280.11" y1="129.5" y2="162.8" stroke="#ff0000" stroke-width="0.9"/>
<rect x="278.23" y="136.3" width="3.75" height="1.4" fill="#ff0000"/>
<line x1="284.24" x2="284.24" y1="116.8" y2="140.5" stroke="#0000ff" stroke-width="0.9"/>
<rect x="282.36" y="119.2" width="3.75" height="17.6" fill="#0000ff"/>
<line x1="288.37" x2="288.37" y1="118.1" y2="181.4" stroke="#ff0000" stroke-width="0.9"/>
<rect x="286.49" y="119.9" width="3.75" height="19.3" fill="#ff0000"/>
<line x1="292.50" x2="292.50" y1="138.1" y2="159.2" stroke="#ff0000" stroke-width="0.9"/>
<rect x="290.62" y="139.2" width="3.75" height="11.3" fill="#ff0000"/>
<line x1="296.63" x2="296.63" y1="138.6" y2="157.7" stroke="#ff0000" stroke-width="0.9"/>
<rect x="294.75" y="145.0" width="3.75" height="3.4" fill="#ff0000"/>
<line x1="300.76" x2="300.76" y1="116.8" y2="155.0" stroke="#0000ff" stroke-width="0.9"/>
<rect x="298.88" y="135.0" width="3.75" height="17.6" fill="#0000ff"/>
<line x1="304.89" x2="304.89" y1="116.8" y2="155.8" stroke="#0000ff" stroke-width="0.9"/>
<rect x="303.01" y="126.0" width="3.75" height="9.6" fill="#0000ff"/>
<line x1="309.02" x2="309.02" y1="72.6" y2="143.0" stroke="#0000ff" stroke-width="0.9"/>
<rect x="307.14" y="103.4" width="3.75" height="20.2" fill="#0000ff"/>
<line x1="313.15" x2="313.15" y1="64.2" y2="112.2" stroke="#0000ff" stroke-width="0.9"/>
<rect x="311.27" y="88.4" width="3.75" height="15.0" fill="#0000ff"/>
<line x1="317.28" x2="317.28" y1="84.4" y2="115.2" stroke="#0000ff" stroke-width="0.9"/>
<rect x="315.40" y="93.1" width="3.75" height="1.2" fill="#0000ff"/>
<line x1="321.41" x2="321.41" y1="88.0" y2="105.6" stroke="#0000ff" stroke-width="0.9"/>
<rect x="319.53" y="93.1" width="3.75" height="7.4" fill="#0000ff"/>
<line x1="325.54" x2="325.54" y1="46.8" y2="94.6" stroke="#0000ff" stroke-width="0.9"/>
<rect x="323.66" y="51.5" width="3.75" height="43.1" fill="#0000ff"/>
<line x1="329.67" x2="329.67" y1="13.7" y2="96.8" stroke="#ff0000" stroke-width="0.9"/>
<rect x="327.79" y="47.1" width="3.75" height="2.7" fill="#ff0000"/>
<line x1="333.80" x2="333.80" y1="32.4" y2="62.3" stroke="#ff0000" stroke-width="0.9"/>
<rect x="331.92" y="49.8" width="3.75" height="5.1" fill="#ff0000"/>
<line x1="337.93" x2="337.93" y1="41.2" y2="59.3" stroke="#0000ff" stroke-width="0.9"/>
<rect x="336.05" y="45.6" width="3.75" height="1.2" fill="#0000ff"/>
<line x1="342.06" x2="342.06" y1="45.3" y2="95.3" stroke="#ff0000" stroke-width="0.9"/>
<rect x="340.18" y="45.3" width="3.75" height="50.0" fill="#ff0000"/>
<line x1="346.19" x2="346.19" y1="86.5" y2="174.0" stroke="#ff0000" stroke-width="0.9"/>
<rect x="344.31" y="86.5" width="3.75" height="56.7" fill="#ff0000"/>
<line x1="350.32" x2="350.32" y1="138.8" y2="236.0" stroke="#ff0000" stroke-width="0.9"/>
<rect x="348.44" y="138.8" width="3.75" height="97.0" fill="#ff0000"/>
<line x1="354.45" x2="354.45" y1="225.5" y2="291.7" stroke="#ff0000" stroke-width="0.9"/>
<rect x="352.57" y="235.7" width="3.75" height="22.9" fill="#ff0000"/>
<line x1="358.58" x2="358.58" y1="184.3" y2="257.8" stroke="#0000ff" stroke-width="0.9"/>
<rect x="356.70" y="187.2" width="3.75" height="70.6" fill="#0000ff"/>
<line x1="362.71" x2="362.71" y1="168.1" y2="220.7" stroke="#ff0000" stroke-width="0.9"/>
<rect x="360.83" y="187.2" width="3.75" height="5.5" fill="#ff0000"/>
<line x1="366.84" x2="366.84" y1="188.3" y2="214.8" stroke="#ff0000" stroke-width="0.9"/>
<rect x="364.96" y="192.7" width="3.75" height="20.0" fill="#ff0000"/>
<line x1="370.97" x2="370.97" y1="194.6" y2="212.7" stroke="#0000ff" stroke-width="0.9"/>
<rect x="369.09" y="194.6" width="3.75" height="18.1" fill="#0000ff"/>
<line x1="375.10" x2="375.10" y1="194.6" y2="212.7" stroke="#ff0000" stroke-width="0.9"/>
<rect x="373.22" y="194.6" width="3.75" height="18.1" fill="#ff0000"/>
<line x1="379.23" x2="379.23" y1="202.0" y2="215.7" stroke="#0000ff" stroke-width="0.9"/>
<rect x="377.35" y="209.3" width="3.75" height="4.0" fill="#0000ff"/>
<line x1="383.36" x2="383.36" y1="190.2" y2="215.2" stroke="#0000ff" stroke-width="0.9"/>
<rect x="381.48" y="191.7" width="3.75" height="21.0" fill="#0000ff"/>
<line x1="387.49" x2="387.49" y1="179.1" y2="205.7" stroke="#0000ff" stroke-width="0.9"/>
<rect x="385.61" y="192.7" width="3.75" height="5.9" fill="#0000ff"/>
<line x1="391.62" x2="391.62" y1="149.8" y2="196.8" stroke="#0000ff" stroke-width="0.9"/>
<rect x="389.74" y="154.2" width="3.75" height="38.5" fill="#0000ff"/>
<line x1="395.75" x2="395.75" y1="154.2" y2="200.5" stroke="#ff0000" stroke-width="0.9"/>
<rect x="393.87" y="161.6" width="3.75" height="29.0" fill="#ff0000"/>
<line x1="399.88" x2="399.88" y1="169.6" y2="202.0" stroke="#0000ff" stroke-width="0.9"/>
<rect x="398.00" y="174.4" width="3.75" height="17.3" fill="#0000ff"/>
<line x1="404.01" x2="404.01" y1="172.5" y2="194.6" stroke="#ff0000" stroke-width="0.9"/>
<rect x="402.13" y="173.5" width="3.75" height="6.8" fill="#ff0000"/>
<line x1="408.14" x2="408.14" y1="170.0" y2="181.0" stroke="#0000ff" stroke-width="0.9"/>
<rect x="406.26" y="171.2" width="3.75" height="9.4" fill="#0000ff"/>
<line x1="412.27" x2="412.27" y1="170.0" y2="237.7" stroke="#ff0000" stroke-width="0.9"/>
<rect x="410.39" y="170.0" width="3.75" height="46.4" fill="#ff0000"/>
<line x1="416.40" x2="416.40" y1="200.2" y2="225.2" stroke="#0000ff" stroke-width="0.9"/>
<rect x="414.52" y="200.6" width="3.75" height="15.4" fill="#0000ff"/>
<line x1="420.53" x2="420.53" y1="203.1" y2="232.6" stroke="#ff0000" stroke-width="0.9"/>
<rect x="418.65" y="214.9" width="3.75" height="1.5" fill="#ff0000"/>
<line x1="424.66" x2="424.66" y1="208.6" y2="224.5" stroke="#0000ff" stroke-width="0.9"/>
<rect x="422.78" y="214.2" width="3.75" height="2.9" fill="#0000ff"/>
<line x1="428.79" x2="428.79" y1="206.8" y2="220.8" stroke="#ff0000" stroke-width="0.9"/>
<rect x="426.91" y="215.4" width="3.75" height="1.0" fill="#ff0000"/>
<line x1="432.92" x2="432.92" y1="205.3" y2="220.1" stroke="#0000ff" stroke-width="0.9"/>
<rect x="431.04" y="207.6" width="3.75" height="8.1" fill="#0000ff"/>
<line x1="437.05" x2="437.05" y1="210.0" y2="217.0" stroke="#0000ff" stroke-width="0.9"/>
<rect x="435.17" y="212.0" width="3.75" height="4.0" fill="#0000ff"/>
<line x1="441.18" x2="441.18" y1="205.3" y2="214.2" stroke="#0000ff" stroke-width="0.9"/>
<rect x="439.30" y="206.1" width="3.75" height="3.7" fill="#0000ff"/>
<line x1="445.31" x2="445.31" y1="198.7" y2="210.5" stroke="#0000ff" stroke-width="0.9"/>
<rect x="443.43" y="204.6" width="3.75" height="2.2" fill="#0000ff"/>
<line x1="449.44" x2="449.44" y1="198.0" y2="210.5" stroke="#ff0000" stroke-width="0.9"/>
<rect x="447.56" y="204.6" width="3.75" height="5.5" fill="#ff0000"/>
<line x1="453.57" x2="453.57" y1="195.8" y2="209.0" stroke="#0000ff" stroke-width="0.9"/>
<rect x="451.69" y="202.4" width="3.75" height="4.4" fill="#0000ff"/>
<line x1="457.70" x2="457.70" y1="195.3" y2="204.6" stroke="#ff0000" stroke-width="0.9"/>
<rect x="455.82" y="196.5" width="3.75" height="7.4" fill="#ff0000"/>
<line x1="461.83" x2="461.83" y1="194.7" y2="206.8" stroke="#0000ff" stroke-width="0.9"/>
<rect x="459.95" y="200.9" width="3.75" height="1.5" fill="#0000ff"/>
<line x1="465.96" x2="465.96" y1="194.7" y2="203.6" stroke="#0000ff" stroke-width="0.9"/>
<rect x="464.08" y="195.8" width="3.75" height="7.3" fill="#0000ff"/>
<line x1="470.09" x2="470.09" y1="194.3" y2="200.2" stroke="#ff0000" stroke-width="0.9"/>
<rect x="468.21" y="195.8" width="3.75" height="3.9" fill="#ff0000"/>
<line x1="474.22" x2="474.22" y1="195.3" y2="210.5" stroke="#ff0000" stroke-width="0.9"/>
<rect x="472.34" y="195.8" width="3.75" height="7.3" fill="#ff0000"/>
<line x1="478.35" x2="478.35" y1="202.4" y2="210.5" stroke="#ff0000" stroke-width="0.9"/>
<rect x="476.47" y="203.1" width="3.75" height="7.0" fill="#ff0000"/>
<line x1="482.48" x2="482.48" y1="196.5" y2="209.8" stroke="#ff0000" stroke-width="0.9"/>
<rect x="480.60" y="202.4" width="3.75" height="6.2" fill="#ff0000"/>
<line x1="486.61" x2="486.61" y1="201.7" y2="211.2" stroke="#ff0000" stroke-width="0.9"/>
<rect x="484.73" y="206.1" width="3.75" height="4.4" fill="#ff0000"/>
<line x1="490.74" x2="490.74" y1="205.3" y2="223.8" stroke="#ff0000" stroke-width="0.9"/>
<rect x="488.86" y="210.5" width="3.75" height="7.4" fill="#ff0000"/>
<line x1="494.87" x2="494.87" y1="214.2" y2="224.5" stroke="#ff0000" stroke-width="0.9"/>
<rect x="492.99" y="217.9" width="3.75" height="6.6" fill="#ff0000"/>
<line x1="499.00" x2="499.00" y1="217.1" y2="225.7" stroke="#ff0000" stroke-width="0.9"/>
<rect x="497.12" y="217.9" width="3.75" height="7.3" fill="#ff0000"/>
<line x1="503.13" x2="503.13" y1="209.8" y2="226.7" stroke="#0000ff" stroke-width="0.9"/>
<rect x="501.25" y="210.5" width="3.75" height="15.0" fill="#0000ff"/>
<line x1="507.26" x2="507.26" y1="209.0" y2="229.6" stroke="#ff0000" stroke-width="0.9"/>
<rect x="505.38" y="209.7" width="3.75" height="10.7" fill="#ff0000"/>
<line x1="511.39" x2="511.39" y1="214.0" y2="231.0" stroke="#ff0000" stroke-width="0.9"/>
<rect x="509.51" y="216.5" width="3.75" height="13.0" fill="#ff0000"/>
<line x1="515.52" x2="515.52" y1="204.4" y2="252.3" stroke="#ff0000" stroke-width="0.9"/>
<rect x="513.64" y="229.5" width="3.75" height="13.2" fill="#ff0000"/>
<line x1="519.65" x2="519.65" y1="237.6" y2="309.0" stroke="#ff0000" stroke-width="0.9"/>
<rect x="517.77" y="242.7" width="3.75" height="16.2" fill="#ff0000"/>
<line x1="523.78" x2="523.78" y1="239.8" y2="275.1" stroke="#0000ff" stroke-width="0.9"/>
<rect x="521.90" y="247.4" width="3.75" height="11.5" fill="#0000ff"/>
<line x1="527.91" x2="527.91" y1="239.0" y2="250.8" stroke="#0000ff" stroke-width="0.9"/>
<rect x="526.03" y="240.1" width="3.75" height="7.8" fill="#0000ff"/>
<line x1="532.04" x2="532.04" y1="238.6" y2="247.4" stroke="#ff0000" stroke-width="0.9"/>
<rect x="530.16" y="239.8" width="3.75" height="2.9" fill="#ff0000"/>
<line x1="536.17" x2="536.17" y1="238.0" y2="250.0" stroke="#ff0000" stroke-width="0.9"/>
<rect x="534.29" y="242.3" width="3.75" height="1.0" fill="#ff0000"/>
<line x1="540.30" x2="540.30" y1="233.9" y2="246.4" stroke="#0000ff" stroke-width="0.9"/>
<rect x="538.42" y="238.3" width="3.75" height="4.4" fill="#0000ff"/>
<line x1="544.43" x2="544.43" y1="236.1" y2="243.4" stroke="#ff0000" stroke-width="0.9"/>
<rect x="542.55" y="237.1" width="3.75" height="4.1" fill="#ff0000"/>
<line x1="548.56" x2="548.56" y1="237.6" y2="247.1" stroke="#ff0000" stroke-width="0.9"/>
<rect x="546.68" y="240.5" width="3.75" height="2.9" fill="#ff0000"/>
<line x1="552.69" x2="552.69" y1="242.7" y2="249.3" stroke="#ff0000" stroke-width="0.9"/>
<rect x="550.81" y="243.0" width="3.75" height="5.6" fill="#ff0000"/>
<line x1="556.82" x2="556.82" y1="245.7" y2="253.8" stroke="#ff0000" stroke-width="0.9"/>
<rect x="554.94" y="247.9" width="3.75" height="2.9" fill="#ff0000"/>
<line x1="560.95" x2="560.95" y1="249.3" y2="256.7" stroke="#ff0000" stroke-width="0.9"/>
<rect x="559.07" y="250.1" width="3.75" height="1.4" fill="#ff0000"/>
<line x1="565.08" x2="565.08" y1="250.1" y2="271.4" stroke="#ff0000" stroke-width="0.9"/>
<rect x="563.20" y="251.3" width="3.75" height="6.4" fill="#ff0000"/>
<line x1="569.21" x2="569.21" y1="256.0" y2="273.6" stroke="#ff0000" stroke-width="0.9"/>
<rect x="567.33" y="261.9" width="3.75" height="8.8" fill="#ff0000"/>
<line x1="573.34" x2="573.34" y1="262.6" y2="276.6" stroke="#ff0000" stroke-width="0.9"/>
<rect x="571.46" y="270.4" width="3.75" height="3.2" fill="#ff0000"/>
<line x1="577.47" x2="577.47" y1="265.5" y2="277.3" stroke="#0000ff" stroke-width="0.9"/>
<rect x="575.59" y="271.9" width="3.75" height="1.0" fill="#0000ff"/>
<line x1="581.60" x2="581.60" y1="264.8" y2="277.3" stroke="#ff0000" stroke-width="0.9"/>
<rect x="579.72" y="271.9" width="3.75" height="3.9" fill="#ff0000"/>
<line x1="585.73" x2="585.73" y1="270.4" y2="278.8" stroke="#ff0000" stroke-width="0.9"/>
<rect x="583.86" y="276.3" width="3.75" height="1.0" fill="#ff0000"/>
<line x1="589.86" x2="589.86" y1="275.1" y2="281.0" stroke="#0000ff" stroke-width="0.9"/>
<rect x="587.99" y="276.3" width="3.75" height="2.5" fill="#0000ff"/>
<line x1="593.99" x2="593.99" y1="273.6" y2="281.0" stroke="#0000ff" stroke-width="0.9"/>
<rect x="592.12" y="277.3" width="3.75" height="1.5" fill="#0000ff"/>
<line x1="598.12" x2="598.12" y1="275.5" y2="281.0" stroke="#ff0000" stroke-width="0.9"/>
<rect x="596.25" y="276.6" width="3.75" height="3.7" fill="#ff0000"/>
<line x1="602.25" x2="602.25" y1="270.7" y2="279.5" stroke="#0000ff" stroke-width="0.9"/>
<rect x="600.38" y="271.4" width="3.75" height="5.9" fill="#0000ff"/>
<line x1="606.38" x2="606.38" y1="231.7" y2="273.6" stroke="#0000ff" stroke-width="0.9"/>
<rect x="604.50" y="237.3" width="3.75" height="34.2" fill="#0000ff"/>
<line x1="610.51" x2="610.51" y1="237.7" y2="249.5" stroke="#ff0000" stroke-width="0.9"/>
<rect x="608.63" y="242.5" width="3.75" height="4.4" fill="#ff0000"/>
<line x1="614.64" x2="614.64" y1="244.3" y2="256.9" stroke="#ff0000" stroke-width="0.9"/>
<rect x="612.76" y="245.8" width="3.75" height="5.9" fill="#ff0000"/>
<line x1="618.77" x2="618.77" y1="244.3" y2="256.1" stroke="#0000ff" stroke-width="0.9"/>
<rect x="616.89" y="248.3" width="3.75" height="6.8" fill="#0000ff"/>
<line x1="622.90" x2="622.90" y1="247.3" y2="256.1" stroke="#ff0000" stroke-width="0.9"/>
<rect x="621.02" y="248.0" width="3.75" height="7.1" fill="#ff0000"/>
<line x1="627.03" x2="627.03" y1="254.6" y2="259.1" stroke="#ff0000" stroke-width="0.9"/>
<rect x="625.15" y="255.7" width="3.75" height="2.9" fill="#ff0000"/>
<line x1="631.16" x2="631.16" y1="249.8" y2="256.9" stroke="#0000ff" stroke-width="0.9"/>
<rect x="629.28" y="252.4" width="3.75" height="3.7" fill="#0000ff"/>
<line x1="635.29" x2="635.29" y1="243.6" y2="253.9" stroke="#0000ff" stroke-width="0.9"/>
<rect x="633.41" y="243.9" width="3.75" height="9.7" fill="#0000ff"/>
<line x1="639.42" x2="639.42" y1="243.6" y2="248.0" stroke="#0000ff" stroke-width="0.9"/>
<rect x="637.54" y="245.0" width="3.75" height="1.0" fill="#0000ff"/>
<line x1="643.55" x2="643.55" y1="237.0" y2="246.5" stroke="#0000ff" stroke-width="0.9"/>
<rect x="641.67" y="241.0" width="3.75" height="3.8" fill="#0000ff"/>
<line x1="647.68" x2="647.68" y1="240.4" y2="246.3" stroke="#ff0000" stroke-width="0.9"/>
<rect x="645.80" y="241.0" width="3.75" height="4.8" fill="#ff0000"/>
<line x1="651.81" x2="651.81" y1="225.2" y2="245.8" stroke="#0000ff" stroke-width="0.9"/>
<rect x="649.93" y="234.8" width="3.75" height="10.6" fill="#0000ff"/>
<line x1="655.94" x2="655.94" y1="204.1" y2="238.4" stroke="#0000ff" stroke-width="0.9"/>
<rect x="654.06" y="227.4" width="3.75" height="10.3" fill="#0000ff"/>
<line x1="660.07" x2="660.07" y1="221.8" y2="230.3" stroke="#0000ff" stroke-width="0.9"/>
<rect x="658.19" y="225.2" width="3.75" height="1.9" fill="#0000ff"/>
<line x1="664.20" x2="664.20" y1="223.0" y2="232.6" stroke="#ff0000" stroke-width="0.9"/>
<rect x="662.32" y="225.2" width="3.75" height="2.9" fill="#ff0000"/>
<line x1="668.33" x2="668.33" y1="223.7" y2="231.8" stroke="#0000ff" stroke-width="0.9"/>
<rect x="666.45" y="224.2" width="3.75" height="6.9" fill="#0000ff"/>
<line x1="672.46" x2="672.46" y1="219.3" y2="230.3" stroke="#0000ff" stroke-width="0.9"/>
<rect x="670.58" y="221.8" width="3.75" height="7.8" fill="#0000ff"/>
<line x1="676.59" x2="676.59" y1="221.5" y2="248.8" stroke="#ff0000" stroke-width="0.9"/>
<rect x="674.71" y="221.8" width="3.75" height="7.8" fill="#ff0000"/>
<line x1="680.72" x2="680.72" y1="221.5" y2="231.8" stroke="#0000ff" stroke-width="0.9"/>
<rect x="678.84" y="222.2" width="3.75" height="7.0" fill="#0000ff"/>
<line x1="684.85" x2="684.85" y1="222.2" y2="240.0" stroke="#ff0000" stroke-width="0.9"/>
<rect x="682.97" y="222.2" width="3.75" height="17.0" fill="#ff0000"/>
<line x1="688.98" x2="688.98" y1="234.0" y2="245.4" stroke="#ff0000" stroke-width="0.9"/>
<rect x="687.10" y="235.5" width="3.75" height="7.4" fill="#ff0000"/>
<line x1="693.11" x2="693.11" y1="237.7" y2="244.3" stroke="#0000ff" stroke-width="0.9"/>
<rect x="691.24" y="239.2" width="3.75" height="4.1" fill="#0000ff"/>
<rect x="-1" y="311.3" width="1.2" height="1.5" fill="#ff0000"/>
<line x1="0" x2="724" y1="242.6" y2="242.6" stroke="#1414ff" stroke-width="0.9" stroke-dasharray="1,1.06"/>
</g>
<g clip-path="url(#macdclip)">
<line x1="3.40" x2="3.40" y1="458.0" y2="459.2" stroke="#f48fb5" stroke-width="1"/>
<line x1="7.53" x2="7.53" y1="458.0" y2="459.2" stroke="#f48fb5" stroke-width="1"/>
<line x1="11.66" x2="11.66" y1="458.0" y2="459.2" stroke="#f48fb5" stroke-width="1"/>
<line x1="15.79" x2="15.79" y1="458.0" y2="459.2" stroke="#f48fb5" stroke-width="1"/>
<line x1="19.92" x2="19.92" y1="458.0" y2="459.2" stroke="#f48fb5" stroke-width="1"/>
<line x1="24.05" x2="24.05" y1="458.6" y2="459.8" stroke="#ee4f8a" stroke-width="1"/>
<line x1="28.18" x2="28.18" y1="458.6" y2="461.1" stroke="#ee4f8a" stroke-width="1"/>
<line x1="32.31" x2="32.31" y1="458.6" y2="462.0" stroke="#ee4f8a" stroke-width="1"/>
<line x1="36.44" x2="36.44" y1="458.6" y2="462.0" stroke="#ee4f8a" stroke-width="1"/>
<line x1="40.57" x2="40.57" y1="458.6" y2="462.0" stroke="#ee4f8a" stroke-width="1"/>
<line x1="44.70" x2="44.70" y1="458.6" y2="462.0" stroke="#ee4f8a" stroke-width="1"/>
<line x1="48.83" x2="48.83" y1="458.6" y2="462.0" stroke="#ee4f8a" stroke-width="1"/>
<line x1="52.96" x2="52.96" y1="458.6" y2="462.0" stroke="#ee4f8a" stroke-width="1"/>
<line x1="57.09" x2="57.09" y1="458.6" y2="461.4" stroke="#ee4f8a" stroke-width="1"/>
<line x1="61.22" x2="61.22" y1="458.6" y2="460.1" stroke="#ee4f8a" stroke-width="1"/>
<line x1="65.35" x2="65.35" y1="458.0" y2="459.2" stroke="#f48fb5" stroke-width="1"/>
<line x1="69.48" x2="69.48" y1="456.1" y2="458.6" stroke="#ee4f8a" stroke-width="1"/>
<line x1="73.61" x2="73.61" y1="453.9" y2="458.6" stroke="#ee4f8a" stroke-width="1"/>
<line x1="77.74" x2="77.74" y1="452.6" y2="458.6" stroke="#ee4f8a" stroke-width="1"/>
<line x1="81.87" x2="81.87" y1="453.4" y2="458.6" stroke="#ee4f8a" stroke-width="1"/>
<line x1="86.00" x2="86.00" y1="452.9" y2="458.6" stroke="#ee4f8a" stroke-width="1"/>
<line x1="90.13" x2="90.13" y1="452.3" y2="458.6" stroke="#ee4f8a" stroke-width="1"/>
<line x1="94.26" x2="94.26" y1="451.8" y2="458.6" stroke="#ee4f8a" stroke-width="1"/>
<line x1="98.39" x2="98.39" y1="453.9" y2="458.6" stroke="#ee4f8a" stroke-width="1"/>
<line x1="102.52" x2="102.52" y1="454.5" y2="458.6" stroke="#ee4f8a" stroke-width="1"/>
<line x1="106.65" x2="106.65" y1="451.3" y2="458.6" stroke="#ee4f8a" stroke-width="1"/>
<line x1="110.78" x2="110.78" y1="443.8" y2="458.6" stroke="#ee4f8a" stroke-width="1"/>
<line x1="114.91" x2="114.91" y1="435.2" y2="458.6" stroke="#ee4f8a" stroke-width="1"/>
<line x1="119.04" x2="119.04" y1="429.9" y2="458.6" stroke="#ee4f8a" stroke-width="1"/>
<line x1="123.17" x2="123.17" y1="431.2" y2="458.6" stroke="#ee4f8a" stroke-width="1"/>
<line x1="127.30" x2="127.30" y1="433.9" y2="458.6" stroke="#ee4f8a" stroke-width="1"/>
<line x1="131.43" x2="131.43" y1="440.0" y2="458.6" stroke="#ee4f8a" stroke-width="1"/>
<line x1="135.56" x2="135.56" y1="445.4" y2="458.6" stroke="#ee4f8a" stroke-width="1"/>
<line x1="139.69" x2="139.69" y1="452.6" y2="458.6" stroke="#ee4f8a" stroke-width="1"/>
<line x1="143.82" x2="143.82" y1="457.1" y2="458.6" stroke="#ee4f8a" stroke-width="1"/>
<line x1="147.95" x2="147.95" y1="458.6" y2="459.8" stroke="#ee4f8a" stroke-width="1"/>
<line x1="152.08" x2="152.08" y1="458.6" y2="462.0" stroke="#ee4f8a" stroke-width="1"/>
<line x1="156.21" x2="156.21" y1="458.6" y2="462.0" stroke="#ee4f8a" stroke-width="1"/>
<line x1="160.34" x2="160.34" y1="458.0" y2="459.2" stroke="#f48fb5" stroke-width="1"/>
<line x1="164.47" x2="164.47" y1="458.0" y2="459.2" stroke="#f48fb5" stroke-width="1"/>
<line x1="168.60" x2="168.60" y1="454.5" y2="458.6" stroke="#ee4f8a" stroke-width="1"/>
<line x1="172.73" x2="172.73" y1="457.1" y2="458.6" stroke="#ee4f8a" stroke-width="1"/>
<line x1="176.86" x2="176.86" y1="458.0" y2="459.2" stroke="#f48fb5" stroke-width="1"/>
<line x1="180.99" x2="180.99" y1="458.6" y2="461.1" stroke="#ee4f8a" stroke-width="1"/>
<line x1="185.12" x2="185.12" y1="458.6" y2="460.1" stroke="#ee4f8a" stroke-width="1"/>
<line x1="189.25" x2="189.25" y1="458.0" y2="459.2" stroke="#f48fb5" stroke-width="1"/>
<line x1="193.38" x2="193.38" y1="458.0" y2="459.2" stroke="#f48fb5" stroke-width="1"/>
<line x1="197.51" x2="197.51" y1="458.0" y2="459.2" stroke="#f48fb5" stroke-width="1"/>
<line x1="201.64" x2="201.64" y1="458.0" y2="459.2" stroke="#f48fb5" stroke-width="1"/>
<line x1="205.77" x2="205.77" y1="458.0" y2="459.2" stroke="#f48fb5" stroke-width="1"/>
<line x1="209.90" x2="209.90" y1="458.6" y2="459.8" stroke="#ee4f8a" stroke-width="1"/>
<line x1="214.03" x2="214.03" y1="458.6" y2="460.1" stroke="#ee4f8a" stroke-width="1"/>
<line x1="218.16" x2="218.16" y1="458.6" y2="460.6" stroke="#ee4f8a" stroke-width="1"/>
<line x1="222.29" x2="222.29" y1="458.6" y2="462.5" stroke="#ee4f8a" stroke-width="1"/>
<line x1="226.42" x2="226.42" y1="458.6" y2="462.5" stroke="#ee4f8a" stroke-width="1"/>
<line x1="230.55" x2="230.55" y1="458.6" y2="462.5" stroke="#ee4f8a" stroke-width="1"/>
<line x1="234.68" x2="234.68" y1="458.6" y2="461.4" stroke="#ee4f8a" stroke-width="1"/>
<line x1="238.81" x2="238.81" y1="458.6" y2="459.8" stroke="#ee4f8a" stroke-width="1"/>
<line x1="242.94" x2="242.94" y1="452.6" y2="458.6" stroke="#ee4f8a" stroke-width="1"/>
<line x1="247.07" x2="247.07" y1="448.6" y2="458.6" stroke="#ee4f8a" stroke-width="1"/>
<line x1="251.20" x2="251.20" y1="446.4" y2="458.6" stroke="#ee4f8a" stroke-width="1"/>
<line x1="255.33" x2="255.33" y1="443.2" y2="458.6" stroke="#ee4f8a" stroke-width="1"/>
<line x1="259.46" x2="259.46" y1="441.1" y2="458.6" stroke="#ee4f8a" stroke-width="1"/>
<line x1="263.59" x2="263.59" y1="440.0" y2="458.6" stroke="#ee4f8a" stroke-width="1"/>
<line x1="267.72" x2="267.72" y1="440.0" y2="458.6" stroke="#ee4f8a" stroke-width="1"/>
<line x1="271.85" x2="271.85" y1="440.6" y2="458.6" stroke="#ee4f8a" stroke-width="1"/>
<line x1="275.98" x2="275.98" y1="442.7" y2="458.6" stroke="#ee4f8a" stroke-width="1"/>
<line x1="280.11" x2="280.11" y1="445.9" y2="458.6" stroke="#ee4f8a" stroke-width="1"/>
<line x1="284.24" x2="284.24" y1="446.4" y2="458.6" stroke="#ee4f8a" stroke-width="1"/>
<line x1="288.37" x2="288.37" y1="451.3" y2="458.6" stroke="#ee4f8a" stroke-width="1"/>
<line x1="292.50" x2="292.50" y1="458.0" y2="459.2" stroke="#f48fb5" stroke-width="1"/>
<line x1="296.63" x2="296.63" y1="458.6" y2="462.0" stroke="#ee4f8a" stroke-width="1"/>
<line x1="300.76" x2="300.76" y1="458.6" y2="464.5" stroke="#ee4f8a" stroke-width="1"/>
<line x1="304.89" x2="304.89" y1="458.6" y2="463.1" stroke="#ee4f8a" stroke-width="1"/>
<line x1="309.02" x2="309.02" y1="458.6" y2="459.5" stroke="#ee4f8a" stroke-width="1"/>
<line x1="313.15" x2="313.15" y1="456.0" y2="458.6" stroke="#ee4f8a" stroke-width="1"/>
<line x1="317.28" x2="317.28" y1="453.6" y2="458.6" stroke="#ee4f8a" stroke-width="1"/>
<line x1="321.41" x2="321.41" y1="453.0" y2="458.6" stroke="#ee4f8a" stroke-width="1"/>
<line x1="325.54" x2="325.54" y1="445.0" y2="458.6" stroke="#ee4f8a" stroke-width="1"/>
<line x1="329.67" x2="329.67" y1="442.0" y2="458.6" stroke="#ee4f8a" stroke-width="1"/>
<line x1="333.80" x2="333.80" y1="442.0" y2="458.6" stroke="#ee4f8a" stroke-width="1"/>
<line x1="337.93" x2="337.93" y1="444.0" y2="458.6" stroke="#ee4f8a" stroke-width="1"/>
<line x1="342.06" x2="342.06" y1="454.0" y2="458.6" stroke="#ee4f8a" stroke-width="1"/>
<line x1="346.19" x2="346.19" y1="458.6" y2="472.1" stroke="#ee4f8a" stroke-width="1"/>
<line x1="350.32" x2="350.32" y1="458.6" y2="500.8" stroke="#ee4f8a" stroke-width="1"/>
<line x1="354.45" x2="354.45" y1="458.6" y2="523.8" stroke="#ee4f8a" stroke-width="1"/>
<line x1="358.58" x2="358.58" y1="458.6" y2="524.2" stroke="#ee4f8a" stroke-width="1"/>
<line x1="362.71" x2="362.71" y1="458.6" y2="522.2" stroke="#ee4f8a" stroke-width="1"/>
<line x1="366.84" x2="366.84" y1="458.6" y2="520.2" stroke="#ee4f8a" stroke-width="1"/>
<line x1="370.97" x2="370.97" y1="458.6" y2="508.2" stroke="#ee4f8a" stroke-width="1"/>
<line x1="375.10" x2="375.10" y1="458.6" y2="503.8" stroke="#ee4f8a" stroke-width="1"/>
<line x1="379.23" x2="379.23" y1="458.6" y2="494.1" stroke="#ee4f8a" stroke-width="1"/>
<line x1="383.36" x2="383.36" y1="458.6" y2="481.1" stroke="#ee4f8a" stroke-width="1"/>
<line x1="387.49" x2="387.49" y1="458.6" y2="472.1" stroke="#ee4f8a" stroke-width="1"/>
<line x1="391.62" x2="391.62" y1="458.6" y2="459.5" stroke="#ee4f8a" stroke-width="1"/>
<line x1="395.75" x2="395.75" y1="457.6" y2="458.6" stroke="#ee4f8a" stroke-width="1"/>
<line x1="399.88" x2="399.88" y1="452.4" y2="458.6" stroke="#ee4f8a" stroke-width="1"/>
<line x1="404.01" x2="404.01" y1="450.0" y2="458.6" stroke="#ee4f8a" stroke-width="1"/>
<line x1="408.14" x2="408.14" y1="448.0" y2="458.6" stroke="#ee4f8a" stroke-width="1"/>
<line x1="412.27" x2="412.27" y1="455.0" y2="458.6" stroke="#ee4f8a" stroke-width="1"/>
<line x1="416.40" x2="416.40" y1="458.0" y2="459.2" stroke="#f48fb5" stroke-width="1"/>
<line x1="420.53" x2="420.53" y1="458.6" y2="461.1" stroke="#ee4f8a" stroke-width="1"/>
<line x1="424.66" x2="424.66" y1="458.6" y2="464.5" stroke="#ee4f8a" stroke-width="1"/>
<line x1="428.79" x2="428.79" y1="458.6" y2="465.1" stroke="#ee4f8a" stroke-width="1"/>
<line x1="432.92" x2="432.92" y1="458.6" y2="463.7" stroke="#ee4f8a" stroke-width="1"/>
<line x1="437.05" x2="437.05" y1="458.6" y2="462.5" stroke="#ee4f8a" stroke-width="1"/>
<line x1="441.18" x2="441.18" y1="458.6" y2="459.7" stroke="#ee4f8a" stroke-width="1"/>
<line x1="445.31" x2="445.31" y1="458.0" y2="459.2" stroke="#f48fb5" stroke-width="1"/>
<line x1="449.44" x2="449.44" y1="456.7" y2="458.6" stroke="#ee4f8a" stroke-width="1"/>
<line x1="453.57" x2="453.57" y1="454.1" y2="458.6" stroke="#ee4f8a" stroke-width="1"/>
<line x1="457.70" x2="457.70" y1="452.1" y2="458.6" stroke="#ee4f8a" stroke-width="1"/>
<line x1="461.83" x2="461.83" y1="451.1" y2="458.6" stroke="#ee4f8a" stroke-width="1"/>
<line x1="465.96" x2="465.96" y1="449.7" y2="458.6" stroke="#ee4f8a" stroke-width="1"/>
<line x1="470.09" x2="470.09" y1="449.7" y2="458.6" stroke="#ee4f8a" stroke-width="1"/>
<line x1="474.22" x2="474.22" y1="450.5" y2="458.6" stroke="#ee4f8a" stroke-width="1"/>
<line x1="478.35" x2="478.35" y1="452.5" y2="458.6" stroke="#ee4f8a" stroke-width="1"/>
<line x1="482.48" x2="482.48" y1="454.1" y2="458.6" stroke="#ee4f8a" stroke-width="1"/>
<line x1="486.61" x2="486.61" y1="456.1" y2="458.6" stroke="#ee4f8a" stroke-width="1"/>
<line x1="490.74" x2="490.74" y1="458.0" y2="459.2" stroke="#f48fb5" stroke-width="1"/>
<line x1="494.87" x2="494.87" y1="458.6" y2="459.5" stroke="#ee4f8a" stroke-width="1"/>
<line x1="499.00" x2="499.00" y1="458.6" y2="461.1" stroke="#ee4f8a" stroke-width="1"/>
<line x1="503.13" x2="503.13" y1="458.6" y2="459.5" stroke="#ee4f8a" stroke-width="1"/>
<line x1="507.26" x2="507.26" y1="458.6" y2="459.5" stroke="#ee4f8a" stroke-width="1"/>
<line x1="511.39" x2="511.39" y1="458.6" y2="460.1" stroke="#ee4f8a" stroke-width="1"/>
<line x1="515.52" x2="515.52" y1="458.6" y2="464.1" stroke="#ee4f8a" stroke-width="1"/>
<line x1="519.65" x2="519.65" y1="458.6" y2="467.7" stroke="#ee4f8a" stroke-width="1"/>
<line x1="523.78" x2="523.78" y1="458.6" y2="468.5" stroke="#ee4f8a" stroke-width="1"/>
<line x1="527.91" x2="527.91" y1="458.6" y2="466.1" stroke="#ee4f8a" stroke-width="1"/>
<line x1="532.04" x2="532.04" y1="458.6" y2="464.5" stroke="#ee4f8a" stroke-width="1"/>
<line x1="536.17" x2="536.17" y1="458.6" y2="462.5" stroke="#ee4f8a" stroke-width="1"/>
<line x1="540.30" x2="540.30" y1="458.6" y2="459.5" stroke="#ee4f8a" stroke-width="1"/>
<line x1="544.43" x2="544.43" y1="457.7" y2="458.6" stroke="#ee4f8a" stroke-width="1"/>
<line x1="548.56" x2="548.56" y1="456.5" y2="458.6" stroke="#ee4f8a" stroke-width="1"/>
<line x1="552.69" x2="552.69" y1="456.1" y2="458.6" stroke="#ee4f8a" stroke-width="1"/>
<line x1="556.82" x2="556.82" y1="456.5" y2="458.6" stroke="#ee4f8a" stroke-width="1"/>
<line x1="560.95" x2="560.95" y1="457.1" y2="458.6" stroke="#ee4f8a" stroke-width="1"/>
<line x1="565.08" x2="565.08" y1="458.0" y2="459.2" stroke="#f48fb5" stroke-width="1"/>
<line x1="569.21" x2="569.21" y1="458.6" y2="460.1" stroke="#ee4f8a" stroke-width="1"/>
<line x1="573.34" x2="573.34" y1="458.6" y2="462.5" stroke="#ee4f8a" stroke-width="1"/>
<line x1="577.47" x2="577.47" y1="458.6" y2="463.7" stroke="#ee4f8a" stroke-width="1"/>
<line x1="581.60" x2="581.60" y1="458.6" y2="463.7" stroke="#ee4f8a" stroke-width="1"/>
<line x1="585.73" x2="585.73" y1="458.6" y2="463.7" stroke="#ee4f8a" stroke-width="1"/>
<line x1="589.86" x2="589.86" y1="458.6" y2="462.7" stroke="#ee4f8a" stroke-width="1"/>
<line x1="593.99" x2="593.99" y1="458.6" y2="461.7" stroke="#ee4f8a" stroke-width="1"/>
<line x1="598.12" x2="598.12" y1="458.6" y2="460.5" stroke="#ee4f8a" stroke-width="1"/>
<line x1="602.25" x2="602.25" y1="458.0" y2="459.2" stroke="#f48fb5" stroke-width="1"/>
<line x1="606.38" x2="606.38" y1="450.1" y2="458.6" stroke="#ee4f8a" stroke-width="1"/>
<line x1="610.51" x2="610.51" y1="446.1" y2="458.6" stroke="#ee4f8a" stroke-width="1"/>
<line x1="614.64" x2="614.64" y1="443.7" y2="458.6" stroke="#ee4f8a" stroke-width="1"/>
<line x1="618.77" x2="618.77" y1="443.1" y2="458.6" stroke="#ee4f8a" stroke-width="1"/>
<line x1="622.90" x2="622.90" y1="443.7" y2="458.6" stroke="#ee4f8a" stroke-width="1"/>
<line x1="627.03" x2="627.03" y1="446.1" y2="458.6" stroke="#ee4f8a" stroke-width="1"/>
<line x1="631.16" x2="631.16" y1="447.1" y2="458.6" stroke="#ee4f8a" stroke-width="1"/>
<line x1="635.29" x2="635.29" y1="447.7" y2="458.6" stroke="#ee4f8a" stroke-width="1"/>
<line x1="639.42" x2="639.42" y1="448.1" y2="458.6" stroke="#ee4f8a" stroke-width="1"/>
<line x1="643.55" x2="643.55" y1="448.1" y2="458.6" stroke="#ee4f8a" stroke-width="1"/>
<line x1="647.68" x2="647.68" y1="449.7" y2="458.6" stroke="#ee4f8a" stroke-width="1"/>
<line x1="651.81" x2="651.81" y1="449.1" y2="458.6" stroke="#ee4f8a" stroke-width="1"/>
<line x1="655.94" x2="655.94" y1="447.1" y2="458.6" stroke="#ee4f8a" stroke-width="1"/>
<line x1="660.07" x2="660.07" y1="446.1" y2="458.6" stroke="#ee4f8a" stroke-width="1"/>
<line x1="664.20" x2="664.20" y1="447.1" y2="458.6" stroke="#ee4f8a" stroke-width="1"/>
<line x1="668.33" x2="668.33" y1="447.7" y2="458.6" stroke="#ee4f8a" stroke-width="1"/>
<line x1="672.46" x2="672.46" y1="448.1" y2="458.6" stroke="#ee4f8a" stroke-width="1"/>
<line x1="676.59" x2="676.59" y1="450.1" y2="458.6" stroke="#ee4f8a" stroke-width="1"/>
<line x1="680.72" x2="680.72" y1="452.1" y2="458.6" stroke="#ee4f8a" stroke-width="1"/>
<line x1="684.85" x2="684.85" y1="457.1" y2="458.6" stroke="#ee4f8a" stroke-width="1"/>
<line x1="688.98" x2="688.98" y1="458.6" y2="459.5" stroke="#ee4f8a" stroke-width="1"/>
<line x1="693.11" x2="693.11" y1="458.6" y2="463.1" stroke="#ee4f8a" stroke-width="1"/>
<polyline points="0.0,462.5 8.0,463.3 18.7,463.3 26.7,466.0 40.1,470.0 53.5,471.8 61.5,471.3 69.5,466.0 77.5,463.3 85.6,461.4 93.6,458.7 102.9,457.9 107.0,448.6 112.3,432.5 117.6,421.8 123.0,417.0 127.0,416.0 133.7,417.0 139.0,420.5 145.7,421.8 152.4,423.2 157.8,421.3 163.1,418.6 167.9,416.0 173.8,420.5 180.5,424.0 187.2,422.4 192.5,420.5 200.0,420.3 204.4,420.5 209.7,424.0 221.7,426.7 229.8,428.5 237.8,427.7 243.1,419.2 251.1,409.8 259.2,399.1 267.2,392.4 273.9,386.6 279.2,384.4 283.8,381.2 288.6,385.7 295.3,392.4 302.0,394.6 307.3,389.8 312.6,383.9 319.3,381.7 324.7,373.2 330.0,366.2 336.7,363.0 341.5,372.4 344.7,387.1 347.4,408.5 350.1,429.9 352.8,445.9 355.4,456.6 358.2,462.1 362.2,470.1 366.2,480.1 370.2,486.1 374.2,492.5 378.2,497.1 382.2,496.5 386.2,495.7 388.2,492.5 391.2,487.1 394.2,487.7 398.3,484.5 402.3,482.5 407.3,478.5 410.3,483.1 415.3,487.1 420.3,490.1 426.3,493.7 432.3,493.1 438.4,491.7 444.4,489.5 448.0,488.2 454.0,484.2 460.1,481.2 466.1,477.1 473.1,474.5 480.1,475.1 486.1,475.1 492.1,477.1 497.1,480.2 502.2,477.7 507.2,479.2 512.2,482.2 516.2,487.2 520.2,490.6 526.2,491.2 534.2,490.6 540.3,488.6 546.3,486.6 554.3,487.8 560.3,487.8 565.3,489.2 570.3,492.6 576.4,495.2 584.4,496.6 588.0,497.2 597.0,497.2 601.1,494.6 605.1,486.2 610.1,479.8 618.1,473.1 626.1,471.1 634.1,466.1 642.2,460.1 648.2,458.1 656.2,450.1 664.2,445.1 671.2,442.5 676.2,442.1 679.3,440.5 684.3,444.1 689.3,447.1 692.7,449.7" fill="none" stroke="#4da6ff" stroke-width="1.05" stroke-linejoin="round"/>
<polyline points="0.0,461.4 13.4,462.0 26.7,464.1 40.1,466.8 53.5,469.4 64.2,470.8 72.2,470.0 80.2,467.8 90.9,464.1 101.6,460.6 109.6,456.6 117.6,448.6 125.7,437.9 133.7,428.5 141.7,421.8 148.4,419.2 160.4,419.7 173.8,420.0 187.2,420.8 195.0,420.5 208.4,421.8 221.7,423.2 232.4,425.1 243.1,425.9 251.1,423.2 259.2,417.8 267.2,409.8 275.2,400.5 283.2,393.0 291.3,388.4 302.0,387.9 312.6,388.2 323.3,387.6 331.4,383.1 339.4,376.4 344.7,375.9 350.1,381.7 355.4,392.4 360.8,405.8 366.1,419.2 371.2,436.0 374.2,449.0 377.2,458.0 380.2,467.1 383.2,475.1 387.2,482.1 391.2,486.5 395.2,489.1 400.3,489.7 406.3,489.1 412.3,488.1 418.3,486.5 424.3,485.7 430.3,487.1 436.4,488.5 442.4,489.5 448.0,490.2 456.0,489.8 464.1,487.2 472.1,483.8 480.1,480.2 488.1,478.2 496.1,477.3 504.2,477.1 510.2,477.7 516.2,479.8 524.2,483.2 532.2,485.8 540.3,488.2 548.3,489.8 556.3,489.2 564.3,488.2 572.3,489.2 580.4,490.6 590.0,493.2 600.1,495.6 606.1,495.2 614.1,491.2 622.1,486.2 630.1,479.8 638.2,472.5 646.2,467.1 654.2,462.5 662.2,457.1 670.2,452.1 678.3,448.1 684.3,446.1 692.7,444.5" fill="none" stroke="#f59a4a" stroke-width="1.05" stroke-linejoin="round"/>
</g>
<rect x="724.1" y="0" width="2" height="534.6" fill="#9494ff"/>
<rect x="0" y="353" width="748" height="1" fill="#3a3aff"/>
<rect x="0" y="533.7" width="726.1" height="1.3" fill="#3a3aff"/>
<rect x="725" y="13.3" width="3" height="1" fill="#3a3aff"/>
<text x="729.6 734.3 736.4 741.6 746.7" y="17.4" font-size="9.1" fill="#4848ff">5.200</text>
<rect x="725" y="39.1" width="3" height="1" fill="#3a3aff"/>
<text x="729.6 734.3 736.4 741.6 746.7" y="43.2" font-size="9.1" fill="#4848ff">5.000</text>
<rect x="725" y="64.9" width="3" height="1" fill="#3a3aff"/>
<text x="729.6 734.3 736.4 741.6 746.7" y="69.0" font-size="9.1" fill="#4848ff">4.800</text>
<rect x="725" y="90.7" width="3" height="1" fill="#3a3aff"/>
<text x="729.6 734.3 736.4 741.6 746.7" y="94.8" font-size="9.1" fill="#4848ff">4.600</text>
<rect x="725" y="116.5" width="3" height="1" fill="#3a3aff"/>
<text x="729.6 734.3 736.4 741.6 746.7" y="120.6" font-size="9.1" fill="#4848ff">4.400</text>
<rect x="725" y="142.2" width="3" height="1" fill="#3a3aff"/>
<text x="729.6 734.3 736.4 741.6 746.7" y="146.3" font-size="9.1" fill="#4848ff">4.200</text>
<rect x="725" y="168.0" width="3" height="1" fill="#3a3aff"/>
<text x="729.6 734.3 736.4 741.6 746.7" y="172.1" font-size="9.1" fill="#4848ff">4.000</text>
<rect x="725" y="193.8" width="3" height="1" fill="#3a3aff"/>
<text x="729.6 734.3 736.4 741.6 746.7" y="197.9" font-size="9.1" fill="#4848ff">3.800</text>
<rect x="725" y="219.6" width="3" height="1" fill="#3a3aff"/>
<text x="729.6 734.3 736.4 741.6 746.7" y="223.7" font-size="9.1" fill="#4848ff">3.600</text>
<rect x="725" y="271.2" width="3" height="1" fill="#3a3aff"/>
<text x="729.6 734.3 736.4 741.6 746.7" y="275.3" font-size="9.1" fill="#4848ff">3.200</text>
<rect x="725" y="296.9" width="3" height="1" fill="#3a3aff"/>
<text x="729.6 734.3 736.4 741.6 746.7" y="301.0" font-size="9.1" fill="#4848ff">3.000</text>
<rect x="725" y="322.7" width="3" height="1" fill="#3a3aff"/>
<text x="729.6 734.3 736.4 741.6 746.7" y="326.8" font-size="9.1" fill="#4848ff">2.800</text>
<rect x="725" y="348.5" width="3" height="1" fill="#3a3aff"/>
<text x="729.6 734.3 736.4 741.6 746.7" y="352.6" font-size="9.1" fill="#4848ff">2.600</text>
<rect x="725" y="361.7" width="3" height="1" fill="#3a3aff"/>
<text x="729.6 734.3 736.4 741.6 746.7" y="365.3" font-size="9.1" fill="#4848ff">0.300</text>
<rect x="725" y="393.7" width="3" height="1" fill="#3a3aff"/>
<text x="729.6 734.3 736.4 741.6 746.7" y="397.3" font-size="9.1" fill="#4848ff">0.200</text>
<rect x="725" y="425.7" width="3" height="1" fill="#3a3aff"/>
<text x="729.6 734.3 736.4 741.6 746.7" y="429.3" font-size="9.1" fill="#4848ff">0.100</text>
<rect x="725" y="457.7" width="3" height="1" fill="#3a3aff"/>
<text x="729.6 734.3 736.4 741.6 746.7" y="461.3" font-size="9.1" fill="#4848ff">0.000</text>
<rect x="725" y="489.7" width="3" height="1" fill="#3a3aff"/>
<text x="729.6 732.8 737.5 739.6 744.8 749.9" y="493.3" font-size="9.1" fill="#4848ff">-0.100</text>
<rect x="725" y="521.7" width="3" height="1" fill="#3a3aff"/>
<text x="729.6 732.8 737.5 739.6 744.8 749.9" y="525.3" font-size="9.1" fill="#4848ff">-0.200</text>
<rect x="724.6" y="237" width="24" height="11.8" fill="#0000ff"/>
<rect x="725" y="242.3" width="3" height="1" fill="#ffffff"/>
<text x="729.6 734.3 736.4 741.6 746.7" y="246.4" font-size="9.1" fill="#ffffff">3.422</text>
<rect x="10.9" y="534.5" width="1" height="2.7" fill="#3a3aff"/>
<text x="11.4" y="546.0" font-size="8.3" text-anchor="middle" font-weight="bold" fill="#4848ff">Apr</text>
<rect x="68.6" y="534.5" width="1" height="2.7" fill="#3a3aff"/>
<text x="69.1" y="546.0" font-size="8.3" text-anchor="middle"  fill="#4848ff">15</text>
<rect x="134.9" y="534.5" width="1" height="2.7" fill="#3a3aff"/>
<text x="135.4" y="546.0" font-size="8.3" text-anchor="middle" font-weight="bold" fill="#4848ff">May</text>
<rect x="196.7" y="534.5" width="1" height="2.7" fill="#3a3aff"/>
<text x="197.2" y="546.0" font-size="8.3" text-anchor="middle"  fill="#4848ff">16</text>
<rect x="262.8" y="534.5" width="1" height="2.7" fill="#3a3aff"/>
<text x="263.3" y="546.0" font-size="8.3" text-anchor="middle" font-weight="bold" fill="#4848ff">Jun</text>
<rect x="320.8" y="534.5" width="1" height="2.7" fill="#3a3aff"/>
<text x="321.3" y="546.0" font-size="8.3" text-anchor="middle"  fill="#4848ff">15</text>
<rect x="386.8" y="534.5" width="1" height="2.7" fill="#3a3aff"/>
<text x="387.3" y="546.0" font-size="8.3" text-anchor="middle" font-weight="bold" fill="#4848ff">Jul</text>
<rect x="456.9" y="534.5" width="1" height="2.7" fill="#3a3aff"/>
<text x="457.4" y="546.0" font-size="8.3" text-anchor="middle"  fill="#4848ff">18</text>
<rect x="514.7" y="534.5" width="1" height="2.7" fill="#3a3aff"/>
<text x="515.2" y="546.0" font-size="8.3" text-anchor="middle" font-weight="bold" fill="#4848ff">Aug</text>
<rect x="572.5" y="534.5" width="1" height="2.7" fill="#3a3aff"/>
<text x="573.0" y="546.0" font-size="8.3" text-anchor="middle"  fill="#4848ff">15</text>
<rect x="642.7" y="534.5" width="1" height="2.7" fill="#3a3aff"/>
<text x="643.2" y="546.0" font-size="8.3" text-anchor="middle" font-weight="bold" fill="#4848ff">Sep</text>
<rect x="716.8" y="534.5" width="1" height="2.7" fill="#3a3aff"/>
<text x="717.3" y="546.0" font-size="8.3" text-anchor="middle"  fill="#4848ff">19</text>
<rect x="0" y="547.7" width="748" height="2.3" fill="#e5e5ea"/>
<rect x="1.5" y="4.8" width="8.6" height="8.4" rx="1" fill="#fff" stroke="#8c8c8c" stroke-width="1"/>
<line x1="1.5" x2="10.1" y1="9" y2="9" stroke="#8c8c8c" stroke-width="1"/>
<text x="15.5" y="13.0" font-size="12.4" fill="#1f1fff" stroke="#1f1fff" stroke-width="0.45" textLength="44.5" lengthAdjust="spacingAndGlyphs">Litecoin</text>
<text x="67.2" y="13.0" font-size="12.4" fill="#1f1fff" stroke="#1f1fff" stroke-width="0.45" textLength="3.8" lengthAdjust="spacingAndGlyphs">/</text>
<text x="76.2" y="13.0" font-size="12.4" fill="#1f1fff" stroke="#1f1fff" stroke-width="0.45" textLength="26.3" lengthAdjust="spacingAndGlyphs">Euro,</text>
<text x="108" y="13.0" font-size="12.4" fill="#1f1fff" stroke="#1f1fff" stroke-width="0.45" textLength="9.5" lengthAdjust="spacingAndGlyphs">D,</text>
<text x="126.7" y="13.0" font-size="12.4" fill="#1f1fff" stroke="#1f1fff" stroke-width="0.45" textLength="28.8" lengthAdjust="spacingAndGlyphs">BTCE</text>
<polygon points="158.9,7.4 163.9,7.4 161.4,10.0" fill="#b4b4b4"/>
<rect x="172.4" y="3.9" width="10.2" height="9.9" fill="#dddddd"/>
<ellipse cx="177.5" cy="8.8" rx="3.1" ry="2.5" fill="none" stroke="#fff" stroke-width="1.3"/>
<circle cx="177.5" cy="8.8" r="0.7" fill="#efefef"/>
<rect x="184.4" y="3.9" width="10.4" height="9.9" fill="#dddddd"/>
<circle cx="189.6" cy="8.8" r="2.2" fill="none" stroke="#fff" stroke-width="1.6"/>
<line x1="192.20" y1="8.85" x2="193.60" y2="8.85" stroke="#fff" stroke-width="1.5"/>
<line x1="191.44" y1="10.69" x2="192.43" y2="11.68" stroke="#fff" stroke-width="1.5"/>
<line x1="189.60" y1="11.45" x2="189.60" y2="12.85" stroke="#fff" stroke-width="1.5"/>
<line x1="187.76" y1="10.69" x2="186.77" y2="11.68" stroke="#fff" stroke-width="1.5"/>
<line x1="187.00" y1="8.85" x2="185.60" y2="8.85" stroke="#fff" stroke-width="1.5"/>
<line x1="187.76" y1="7.01" x2="186.77" y2="6.02" stroke="#fff" stroke-width="1.5"/>
<line x1="189.60" y1="6.25" x2="189.60" y2="4.85" stroke="#fff" stroke-width="1.5"/>
<line x1="191.44" y1="7.01" x2="192.43" y2="6.02" stroke="#fff" stroke-width="1.5"/>
<text x="201.4" y="11.7" font-size="9.2" fill="#3030ff" textLength="6.0" lengthAdjust="spacingAndGlyphs">O</text>
<text x="211.8" y="11.7" font-size="9.2" fill="#3030ff" textLength="25.2" lengthAdjust="spacingAndGlyphs">3.4160</text>
<text x="241.2" y="11.7" font-size="9.2" fill="#3030ff" textLength="5.7" lengthAdjust="spacingAndGlyphs">H</text>
<text x="251.0" y="11.7" font-size="9.2" fill="#3030ff" textLength="25.0" lengthAdjust="spacingAndGlyphs">3.4650</text>
<text x="280.5" y="11.7" font-size="9.2" fill="#3030ff" textLength="3.6" lengthAdjust="spacingAndGlyphs">L</text>
<text x="289.0" y="11.7" font-size="9.2" fill="#3030ff" textLength="24.6" lengthAdjust="spacingAndGlyphs">3.4140</text>
<text x="317.9" y="11.7" font-size="9.2" fill="#3030ff" textLength="5.2" lengthAdjust="spacingAndGlyphs">C</text>
<text x="327.4" y="11.7" font-size="9.2" fill="#3030ff" textLength="25.3" lengthAdjust="spacingAndGlyphs">3.4220</text>
<text x="1.1" y="27.1" font-size="9.3" fill="#3030ff" textLength="61.5" lengthAdjust="spacingAndGlyphs">EMA (55, close)</text>
<polygon points="66.3,23.3 71.3,23.3 68.8,25.9" fill="#b4b4b4"/>
<rect x="79.1" y="19.0" width="10.5" height="10.2" fill="#dddddd"/>
<ellipse cx="84.3" cy="24.1" rx="3.1" ry="2.5" fill="none" stroke="#fff" stroke-width="1.3"/>
<circle cx="84.3" cy="24.1" r="0.7" fill="#efefef"/>
<rect x="92.0" y="19.0" width="10.5" height="10.2" fill="#dddddd"/>
<circle cx="97.3" cy="24.1" r="2.2" fill="none" stroke="#fff" stroke-width="1.6"/>
<line x1="99.88" y1="24.10" x2="101.28" y2="24.10" stroke="#fff" stroke-width="1.5"/>
<line x1="99.12" y1="25.94" x2="100.11" y2="26.93" stroke="#fff" stroke-width="1.5"/>
<line x1="97.28" y1="26.70" x2="97.28" y2="28.10" stroke="#fff" stroke-width="1.5"/>
<line x1="95.44" y1="25.94" x2="94.45" y2="26.93" stroke="#fff" stroke-width="1.5"/>
<line x1="94.68" y1="24.10" x2="93.28" y2="24.10" stroke="#fff" stroke-width="1.5"/>
<line x1="95.44" y1="22.26" x2="94.45" y2="21.27" stroke="#fff" stroke-width="1.5"/>
<line x1="97.28" y1="21.50" x2="97.28" y2="20.10" stroke="#fff" stroke-width="1.5"/>
<line x1="99.12" y1="22.26" x2="100.11" y2="21.27" stroke="#fff" stroke-width="1.5"/>
<rect x="105.0" y="19.0" width="10.5" height="10.2" fill="#dddddd"/>
<line x1="107.0" y1="24.1" x2="113.4" y2="24.1" stroke="#fff" stroke-width="1.7"/>
<line x1="110.2" y1="20.9" x2="110.2" y2="27.3" stroke="#fff" stroke-width="1.7"/>
<rect x="117.9" y="19.0" width="10.5" height="10.2" fill="#dddddd"/>
<line x1="119.5" y1="20.5" x2="126.7" y2="27.7" stroke="#fff" stroke-width="1.4"/>
<line x1="119.5" y1="27.7" x2="126.7" y2="20.5" stroke="#fff" stroke-width="1.4"/>
<text x="135.0" y="27.1" font-size="9.3" fill="#3535d8" textLength="25.0" lengthAdjust="spacingAndGlyphs">3.4800</text>
<text x="1.1" y="42.9" font-size="9.3" fill="#3030ff" textLength="95.0" lengthAdjust="spacingAndGlyphs">Ichimoku (9, 26, 52, 26)</text>
<polygon points="99.7,39.1 104.7,39.1 102.2,41.7" fill="#b4b4b4"/>
<rect x="112.5" y="34.8" width="10.5" height="10.2" fill="#dddddd"/>
<ellipse cx="117.8" cy="39.9" rx="3.1" ry="2.5" fill="none" stroke="#fff" stroke-width="1.3"/>
<circle cx="117.8" cy="39.9" r="0.7" fill="#efefef"/>
<rect x="125.4" y="34.8" width="10.5" height="10.2" fill="#dddddd"/>
<circle cx="130.7" cy="39.9" r="2.2" fill="none" stroke="#fff" stroke-width="1.6"/>
<line x1="133.28" y1="39.93" x2="134.68" y2="39.93" stroke="#fff" stroke-width="1.5"/>
<line x1="132.52" y1="41.77" x2="133.51" y2="42.76" stroke="#fff" stroke-width="1.5"/>
<line x1="130.68" y1="42.53" x2="130.68" y2="43.93" stroke="#fff" stroke-width="1.5"/>
<line x1="128.84" y1="41.77" x2="127.85" y2="42.76" stroke="#fff" stroke-width="1.5"/>
<line x1="128.08" y1="39.93" x2="126.68" y2="39.93" stroke="#fff" stroke-width="1.5"/>
<line x1="128.84" y1="38.09" x2="127.85" y2="37.10" stroke="#fff" stroke-width="1.5"/>
<line x1="130.68" y1="37.33" x2="130.68" y2="35.93" stroke="#fff" stroke-width="1.5"/>
<line x1="132.52" y1="38.09" x2="133.51" y2="37.10" stroke="#fff" stroke-width="1.5"/>
<rect x="138.4" y="34.8" width="10.5" height="10.2" fill="#dddddd"/>
<line x1="140.4" y1="39.9" x2="146.8" y2="39.9" stroke="#fff" stroke-width="1.7"/>
<line x1="143.6" y1="36.7" x2="143.6" y2="43.1" stroke="#fff" stroke-width="1.7"/>
<rect x="151.3" y="34.8" width="10.5" height="10.2" fill="#dddddd"/>
<line x1="152.9" y1="36.3" x2="160.1" y2="43.5" stroke="#fff" stroke-width="1.4"/>
<line x1="152.9" y1="43.5" x2="160.1" y2="36.3" stroke="#fff" stroke-width="1.4"/>
<text x="167.5" y="42.9" font-size="9.3" fill="#3fa9f5" textLength="25.0" lengthAdjust="spacingAndGlyphs">3.4910</text>
<text x="197.5" y="42.9" font-size="9.3" fill="#b05656" textLength="25.0" lengthAdjust="spacingAndGlyphs">3.4170</text>
<text x="227.0" y="42.9" font-size="9.3" fill="#6aa84f" textLength="25.0" lengthAdjust="spacingAndGlyphs">3.4220</text>
<text x="255.8" y="42.9" font-size="9.3" fill="#5fa05f" textLength="25.0" lengthAdjust="spacingAndGlyphs">3.3135</text>
<text x="286.2" y="42.9" font-size="9.3" fill="#f06a6a" textLength="25.0" lengthAdjust="spacingAndGlyphs">3.5230</text>
<text x="1.1" y="58.8" font-size="9.3" fill="#3030ff" textLength="61.5" lengthAdjust="spacingAndGlyphs">MA (200, close)</text>
<polygon points="66.3,55.0 71.3,55.0 68.8,57.6" fill="#b4b4b4"/>
<rect x="79.1" y="50.7" width="10.5" height="10.2" fill="#dddddd"/>
<ellipse cx="84.3" cy="55.8" rx="3.1" ry="2.5" fill="none" stroke="#fff" stroke-width="1.3"/>
<circle cx="84.3" cy="55.8" r="0.7" fill="#efefef"/>
<rect x="92.0" y="50.7" width="10.5" height="10.2" fill="#dddddd"/>
<circle cx="97.3" cy="55.8" r="2.2" fill="none" stroke="#fff" stroke-width="1.6"/>
<line x1="99.88" y1="55.76" x2="101.28" y2="55.76" stroke="#fff" stroke-width="1.5"/>
<line x1="99.12" y1="57.60" x2="100.11" y2="58.59" stroke="#fff" stroke-width="1.5"/>
<line x1="97.28" y1="58.36" x2="97.28" y2="59.76" stroke="#fff" stroke-width="1.5"/>
<line x1="95.44" y1="57.60" x2="94.45" y2="58.59" stroke="#fff" stroke-width="1.5"/>
<line x1="94.68" y1="55.76" x2="93.28" y2="55.76" stroke="#fff" stroke-width="1.5"/>
<line x1="95.44" y1="53.92" x2="94.45" y2="52.93" stroke="#fff" stroke-width="1.5"/>
<line x1="97.28" y1="53.16" x2="97.28" y2="51.76" stroke="#fff" stroke-width="1.5"/>
<line x1="99.12" y1="53.92" x2="100.11" y2="52.93" stroke="#fff" stroke-width="1.5"/>
<rect x="105.0" y="50.7" width="10.5" height="10.2" fill="#dddddd"/>
<line x1="107.0" y1="55.8" x2="113.4" y2="55.8" stroke="#fff" stroke-width="1.7"/>
<line x1="110.2" y1="52.6" x2="110.2" y2="59.0" stroke="#fff" stroke-width="1.7"/>
<rect x="117.9" y="50.7" width="10.5" height="10.2" fill="#dddddd"/>
<line x1="119.5" y1="52.2" x2="126.7" y2="59.4" stroke="#fff" stroke-width="1.4"/>
<line x1="119.5" y1="59.4" x2="126.7" y2="52.2" stroke="#fff" stroke-width="1.4"/>
<text x="135.0" y="58.8" font-size="9.3" fill="#b02a2a" textLength="25.0" lengthAdjust="spacingAndGlyphs">3.4481</text>
<text x="1.1" y="74.6" font-size="9.3" fill="#3030ff" textLength="57.0" lengthAdjust="spacingAndGlyphs">EMA (9, close)</text>
<polygon points="61.7,70.8 66.7,70.8 64.2,73.4" fill="#b4b4b4"/>
<rect x="75.0" y="66.5" width="10.5" height="10.2" fill="#dddddd"/>
<ellipse cx="80.2" cy="71.6" rx="3.1" ry="2.5" fill="none" stroke="#fff" stroke-width="1.3"/>
<circle cx="80.2" cy="71.6" r="0.7" fill="#efefef"/>
<rect x="87.9" y="66.5" width="10.5" height="10.2" fill="#dddddd"/>
<circle cx="93.2" cy="71.6" r="2.2" fill="none" stroke="#fff" stroke-width="1.6"/>
<line x1="95.78" y1="71.59" x2="97.18" y2="71.59" stroke="#fff" stroke-width="1.5"/>
<line x1="95.02" y1="73.43" x2="96.01" y2="74.42" stroke="#fff" stroke-width="1.5"/>
<line x1="93.18" y1="74.19" x2="93.18" y2="75.59" stroke="#fff" stroke-width="1.5"/>
<line x1="91.34" y1="73.43" x2="90.35" y2="74.42" stroke="#fff" stroke-width="1.5"/>
<line x1="90.58" y1="71.59" x2="89.18" y2="71.59" stroke="#fff" stroke-width="1.5"/>
<line x1="91.34" y1="69.75" x2="90.35" y2="68.76" stroke="#fff" stroke-width="1.5"/>
<line x1="93.18" y1="68.99" x2="93.18" y2="67.59" stroke="#fff" stroke-width="1.5"/>
<line x1="95.02" y1="69.75" x2="96.01" y2="68.76" stroke="#fff" stroke-width="1.5"/>
<rect x="100.9" y="66.5" width="10.5" height="10.2" fill="#dddddd"/>
<line x1="102.9" y1="71.6" x2="109.3" y2="71.6" stroke="#fff" stroke-width="1.7"/>
<line x1="106.1" y1="68.4" x2="106.1" y2="74.8" stroke="#fff" stroke-width="1.7"/>
<rect x="113.8" y="66.5" width="10.5" height="10.2" fill="#dddddd"/>
<line x1="115.4" y1="68.0" x2="122.6" y2="75.2" stroke="#fff" stroke-width="1.4"/>
<line x1="115.4" y1="75.2" x2="122.6" y2="68.0" stroke="#fff" stroke-width="1.4"/>
<text x="130.0" y="74.6" font-size="9.3" fill="#b02a2a" textLength="25.0" lengthAdjust="spacingAndGlyphs">3.4794</text>
<text x="1.1" y="90.4" font-size="9.3" fill="#3030ff" textLength="57.0" lengthAdjust="spacingAndGlyphs">MA (21, close)</text>
<polygon points="61.7,86.6 66.7,86.6 64.2,89.2" fill="#b4b4b4"/>
<rect x="75.0" y="82.3" width="10.5" height="10.2" fill="#dddddd"/>
<ellipse cx="80.2" cy="87.4" rx="3.1" ry="2.5" fill="none" stroke="#fff" stroke-width="1.3"/>
<circle cx="80.2" cy="87.4" r="0.7" fill="#efefef"/>
<rect x="87.9" y="82.3" width="10.5" height="10.2" fill="#dddddd"/>
<circle cx="93.2" cy="87.4" r="2.2" fill="none" stroke="#fff" stroke-width="1.6"/>
<line x1="95.78" y1="87.42" x2="97.18" y2="87.42" stroke="#fff" stroke-width="1.5"/>
<line x1="95.02" y1="89.26" x2="96.01" y2="90.25" stroke="#fff" stroke-width="1.5"/>
<line x1="93.18" y1="90.02" x2="93.18" y2="91.42" stroke="#fff" stroke-width="1.5"/>
<line x1="91.34" y1="89.26" x2="90.35" y2="90.25" stroke="#fff" stroke-width="1.5"/>
<line x1="90.58" y1="87.42" x2="89.18" y2="87.42" stroke="#fff" stroke-width="1.5"/>
<line x1="91.34" y1="85.58" x2="90.35" y2="84.59" stroke="#fff" stroke-width="1.5"/>
<line x1="93.18" y1="84.82" x2="93.18" y2="83.42" stroke="#fff" stroke-width="1.5"/>
<line x1="95.02" y1="85.58" x2="96.01" y2="84.59" stroke="#fff" stroke-width="1.5"/>
<rect x="100.9" y="82.3" width="10.5" height="10.2" fill="#dddddd"/>
<line x1="102.9" y1="87.4" x2="109.3" y2="87.4" stroke="#fff" stroke-width="1.7"/>
<line x1="106.1" y1="84.2" x2="106.1" y2="90.6" stroke="#fff" stroke-width="1.7"/>
<rect x="113.8" y="82.3" width="10.5" height="10.2" fill="#dddddd"/>
<line x1="115.4" y1="83.8" x2="122.6" y2="91.0" stroke="#fff" stroke-width="1.4"/>
<line x1="115.4" y1="91.0" x2="122.6" y2="83.8" stroke="#fff" stroke-width="1.4"/>
<text x="130.0" y="90.4" font-size="9.3" fill="#3030ff" textLength="25.0" lengthAdjust="spacingAndGlyphs">3.4525</text>
<text x="1.1" y="106.2" font-size="9.3" fill="#3030ff" textLength="61.5" lengthAdjust="spacingAndGlyphs">MA (100, close)</text>
<polygon points="66.3,102.5 71.3,102.5 68.8,105.0" fill="#b4b4b4"/>
<rect x="79.1" y="98.2" width="10.5" height="10.2" fill="#dddddd"/>
<ellipse cx="84.3" cy="103.2" rx="3.1" ry="2.5" fill="none" stroke="#fff" stroke-width="1.3"/>
<circle cx="84.3" cy="103.2" r="0.7" fill="#efefef"/>
<rect x="92.0" y="98.2" width="10.5" height="10.2" fill="#dddddd"/>
<circle cx="97.3" cy="103.2" r="2.2" fill="none" stroke="#fff" stroke-width="1.6"/>
<line x1="99.88" y1="103.25" x2="101.28" y2="103.25" stroke="#fff" stroke-width="1.5"/>
<line x1="99.12" y1="105.09" x2="100.11" y2="106.08" stroke="#fff" stroke-width="1.5"/>
<line x1="97.28" y1="105.85" x2="97.28" y2="107.25" stroke="#fff" stroke-width="1.5"/>
<line x1="95.44" y1="105.09" x2="94.45" y2="106.08" stroke="#fff" stroke-width="1.5"/>
<line x1="94.68" y1="103.25" x2="93.28" y2="103.25" stroke="#fff" stroke-width="1.5"/>
<line x1="95.44" y1="101.41" x2="94.45" y2="100.42" stroke="#fff" stroke-width="1.5"/>
<line x1="97.28" y1="100.65" x2="97.28" y2="99.25" stroke="#fff" stroke-width="1.5"/>
<line x1="99.12" y1="101.41" x2="100.11" y2="100.42" stroke="#fff" stroke-width="1.5"/>
<rect x="105.0" y="98.2" width="10.5" height="10.2" fill="#dddddd"/>
<line x1="107.0" y1="103.2" x2="113.4" y2="103.2" stroke="#fff" stroke-width="1.7"/>
<line x1="110.2" y1="100.0" x2="110.2" y2="106.5" stroke="#fff" stroke-width="1.7"/>
<rect x="117.9" y="98.2" width="10.5" height="10.2" fill="#dddddd"/>
<line x1="119.5" y1="99.7" x2="126.7" y2="106.8" stroke="#fff" stroke-width="1.4"/>
<line x1="119.5" y1="106.8" x2="126.7" y2="99.7" stroke="#fff" stroke-width="1.4"/>
<text x="135.0" y="106.2" font-size="9.3" fill="#3a3aa8" textLength="25.0" lengthAdjust="spacingAndGlyphs">3.6962</text>
<text x="1.1" y="367.9" font-size="9.3" fill="#3030ff" textLength="143.3" lengthAdjust="spacingAndGlyphs">MACD (12, 26, close, 9, false, true)</text>
<polygon points="148.0,364.1 153.0,364.1 150.5,366.7" fill="#b4b4b4"/>
<rect x="161.1" y="359.7" width="10" height="10.2" fill="#dddddd"/>
<ellipse cx="166.1" cy="364.8" rx="3.1" ry="2.5" fill="none" stroke="#fff" stroke-width="1.3"/>
<circle cx="166.1" cy="364.8" r="0.7" fill="#efefef"/>
<rect x="173.8" y="359.7" width="10" height="10.2" fill="#dddddd"/>
<circle cx="178.8" cy="364.8" r="2.2" fill="none" stroke="#fff" stroke-width="1.6"/>
<line x1="181.40" y1="364.80" x2="182.80" y2="364.80" stroke="#fff" stroke-width="1.5"/>
<line x1="180.64" y1="366.64" x2="181.63" y2="367.63" stroke="#fff" stroke-width="1.5"/>
<line x1="178.80" y1="367.40" x2="178.80" y2="368.80" stroke="#fff" stroke-width="1.5"/>
<line x1="176.96" y1="366.64" x2="175.97" y2="367.63" stroke="#fff" stroke-width="1.5"/>
<line x1="176.20" y1="364.80" x2="174.80" y2="364.80" stroke="#fff" stroke-width="1.5"/>
<line x1="176.96" y1="362.96" x2="175.97" y2="361.97" stroke="#fff" stroke-width="1.5"/>
<line x1="178.80" y1="362.20" x2="178.80" y2="360.80" stroke="#fff" stroke-width="1.5"/>
<line x1="180.64" y1="362.96" x2="181.63" y2="361.97" stroke="#fff" stroke-width="1.5"/>
<rect x="186.5" y="359.7" width="10" height="10.2" fill="#dddddd"/>
<line x1="188.3" y1="364.8" x2="194.7" y2="364.8" stroke="#fff" stroke-width="1.7"/>
<line x1="191.5" y1="361.6" x2="191.5" y2="368.0" stroke="#fff" stroke-width="1.7"/>
<rect x="199.2" y="359.7" width="10" height="10.2" fill="#dddddd"/>
<line x1="200.6" y1="361.2" x2="207.8" y2="368.4" stroke="#fff" stroke-width="1.4"/>
<line x1="200.6" y1="368.4" x2="207.8" y2="361.2" stroke="#fff" stroke-width="1.4"/>
<text x="216.7" y="367.9" font-size="9.3" fill="#f0508c" textLength="27.4" lengthAdjust="spacingAndGlyphs">-0.0140</text>
<text x="248.4" y="367.9" font-size="9.3" fill="#3d9bf5" textLength="25.2" lengthAdjust="spacingAndGlyphs">0.0271</text>
<text x="277.9" y="367.9" font-size="9.3" fill="#f58a3c" textLength="25.0" lengthAdjust="spacingAndGlyphs">0.0411</text>
<circle cx="683.8" cy="8.7" r="3" fill="#2e8b57"/>
<text x="690.0" y="10.8" font-size="8.0" fill="#3c9264" textLength="30.7" lengthAdjust="spacingAndGlyphs">realtime</text>
<rect x="353.5" y="-6" width="75.5" height="8.3" rx="2.5" fill="#fff" stroke="#d6d6d6" stroke-width="1"/>
<rect x="398" y="0" width="22" height="1" fill="#c8c8c8" opacity="0.6"/>
<circle cx="327.5" cy="512.6" r="10" fill="#f2f2f2" fill-opacity="0.4" stroke="#d2d2d2" stroke-width="1"/>
<polyline points="329.0,509.40000000000003 325.7,512.6 329.0,515.8000000000001" fill="none" stroke="#c2c2c2" stroke-width="1.3"/>
<circle cx="353.1" cy="512.6" r="10" fill="#f2f2f2" fill-opacity="0.4" stroke="#d2d2d2" stroke-width="1"/>
<line x1="349.6" x2="356.6" y1="512.6" y2="512.6" stroke="#c2c2c2" stroke-width="1.3"/>
<circle cx="378.8" cy="512.6" r="10" fill="#f2f2f2" fill-opacity="0.4" stroke="#d2d2d2" stroke-width="1"/>
<path d="M 382.0 511.1 A 3.6 3.6 0 1 0 382.1 514.2" fill="none" stroke="#c2c2c2" stroke-width="1.3"/>
<polygon points="380.0,511.0 383.40000000000003,511.40000000000003 383.0,508.20000000000005" fill="#c2c2c2"/>
<circle cx="404.5" cy="512.6" r="10" fill="#f2f2f2" fill-opacity="0.4" stroke="#d2d2d2" stroke-width="1"/>
<line x1="401.0" x2="408.0" y1="512.6" y2="512.6" stroke="#c2c2c2" stroke-width="1.3"/>
<line x1="404.5" x2="404.5" y1="509.1" y2="516.1" stroke="#c2c2c2" stroke-width="1.3"/>
<circle cx="430.3" cy="512.6" r="10" fill="#f2f2f2" fill-opacity="0.4" stroke="#d2d2d2" stroke-width="1"/>
<polyline points="428.8,509.40000000000003 432.1,512.6 428.8,515.8000000000001" fill="none" stroke="#c2c2c2" stroke-width="1.3"/>
</svg>
</body></html>
